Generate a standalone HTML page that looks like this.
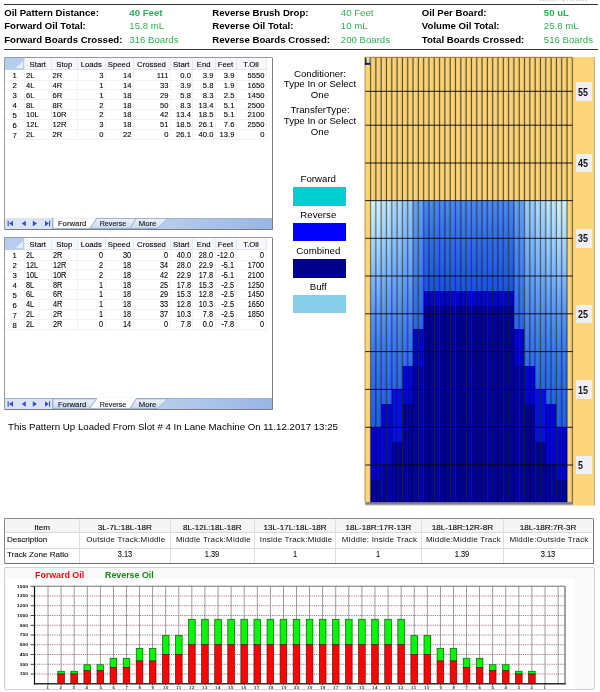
<!DOCTYPE html>
<html><head><meta charset="utf-8"><title>Oil Pattern Report</title>
<style>html,body{margin:0;padding:0;background:#fff;}body{width:600px;height:692px;position:relative;overflow:hidden;font-family:'Liberation Sans', sans-serif;}div{box-sizing:border-box;}svg{position:absolute;left:0;top:0;}</style>
</head><body>
<div style="position:absolute;left:4.00px;top:3.90px;width:594.00px;height:1.30px;background:#333;"></div>
<div style="position:absolute;left:4.00px;top:48.60px;width:594.00px;height:1.30px;background:#333;"></div>
<div style="position:absolute;top:7.07px;font-size:9.65px;line-height:11.58px;color:#000;white-space:nowrap;font-weight:bold;left:4.20px;">Oil Pattern Distance:</div>
<div style="position:absolute;top:7.07px;font-size:9.65px;line-height:11.58px;color:#2db155;white-space:nowrap;font-weight:bold;left:129.30px;">40 Feet</div>
<div style="position:absolute;top:7.07px;font-size:9.65px;line-height:11.58px;color:#000;white-space:nowrap;font-weight:bold;left:212.30px;">Reverse Brush Drop:</div>
<div style="position:absolute;top:7.07px;font-size:9.65px;line-height:11.58px;color:#2db155;white-space:nowrap;left:340.80px;">40 Feet</div>
<div style="position:absolute;top:7.07px;font-size:9.65px;line-height:11.58px;color:#000;white-space:nowrap;font-weight:bold;left:421.80px;">Oil Per Board:</div>
<div style="position:absolute;top:7.07px;font-size:9.65px;line-height:11.58px;color:#2db155;white-space:nowrap;font-weight:bold;left:543.80px;">50 uL</div>
<div style="position:absolute;top:20.47px;font-size:9.65px;line-height:11.58px;color:#000;white-space:nowrap;font-weight:bold;left:4.20px;">Forward Oil Total:</div>
<div style="position:absolute;top:20.47px;font-size:9.65px;line-height:11.58px;color:#2db155;white-space:nowrap;left:129.30px;">15.8 mL</div>
<div style="position:absolute;top:20.47px;font-size:9.65px;line-height:11.58px;color:#000;white-space:nowrap;font-weight:bold;left:212.30px;">Reverse Oil Total:</div>
<div style="position:absolute;top:20.47px;font-size:9.65px;line-height:11.58px;color:#2db155;white-space:nowrap;left:340.80px;">10 mL</div>
<div style="position:absolute;top:20.47px;font-size:9.65px;line-height:11.58px;color:#000;white-space:nowrap;font-weight:bold;left:421.80px;">Volume Oil Total:</div>
<div style="position:absolute;top:20.47px;font-size:9.65px;line-height:11.58px;color:#2db155;white-space:nowrap;left:543.80px;">25.8 mL</div>
<div style="position:absolute;top:33.97px;font-size:9.65px;line-height:11.58px;color:#000;white-space:nowrap;font-weight:bold;left:4.20px;">Forward Boards Crossed:</div>
<div style="position:absolute;top:33.97px;font-size:9.65px;line-height:11.58px;color:#2db155;white-space:nowrap;left:129.30px;">316 Boards</div>
<div style="position:absolute;top:33.97px;font-size:9.65px;line-height:11.58px;color:#000;white-space:nowrap;font-weight:bold;left:212.30px;">Reverse Boards Crossed:</div>
<div style="position:absolute;top:33.97px;font-size:9.65px;line-height:11.58px;color:#2db155;white-space:nowrap;left:340.80px;">200 Boards</div>
<div style="position:absolute;top:33.97px;font-size:9.65px;line-height:11.58px;color:#000;white-space:nowrap;font-weight:bold;left:421.80px;">Total Boards Crossed:</div>
<div style="position:absolute;top:33.97px;font-size:9.65px;line-height:11.58px;color:#2db155;white-space:nowrap;left:543.80px;">516 Boards</div>
<div style="position:absolute;left:539.00px;top:0.00px;width:50.00px;height:0.90px;background:repeating-linear-gradient(90deg,#b8b8b8 0 1.6px,#fff 1.6px 3.1px);opacity:0.55;"></div>
<div style="position:absolute;left:563.00px;top:0.00px;width:0.80px;height:1.20px;background:#f0b060;"></div>
<div style="position:absolute;left:4.30px;top:57.00px;width:268.90px;height:173.30px;background:#fff;border:1px solid #9a9a9a;border-right:1.3px solid #7c7c7c;border-bottom:1.3px solid #7c7c7c;border-radius:1.5px;"></div>
<div style="position:absolute;left:4.80px;top:57.80px;width:261.20px;height:12.40px;background:#f7f8fb;border-bottom:1px solid #e3e6ee;"></div>
<div style="position:absolute;left:4.80px;top:57.80px;width:19.70px;height:12.40px;background:#b4cdf0;"></div>
<svg width="600" height="692" style="pointer-events:none"><polygon points="23.0,61.3 23.0,68.2 15.0,68.2" fill="#e6eefb"/></svg>
<div style="position:absolute;left:24.00px;top:57.80px;width:1.00px;height:12.40px;background:#e6e9f0;"></div>
<div style="position:absolute;left:50.50px;top:57.80px;width:1.00px;height:12.40px;background:#e6e9f0;"></div>
<div style="position:absolute;left:77.00px;top:57.80px;width:1.00px;height:12.40px;background:#e6e9f0;"></div>
<div style="position:absolute;left:104.50px;top:57.80px;width:1.00px;height:12.40px;background:#e6e9f0;"></div>
<div style="position:absolute;left:132.50px;top:57.80px;width:1.00px;height:12.40px;background:#e6e9f0;"></div>
<div style="position:absolute;left:169.50px;top:57.80px;width:1.00px;height:12.40px;background:#e6e9f0;"></div>
<div style="position:absolute;left:192.00px;top:57.80px;width:1.00px;height:12.40px;background:#e6e9f0;"></div>
<div style="position:absolute;left:214.50px;top:57.80px;width:1.00px;height:12.40px;background:#e6e9f0;"></div>
<div style="position:absolute;left:235.50px;top:57.80px;width:1.00px;height:12.40px;background:#e6e9f0;"></div>
<div style="position:absolute;left:265.50px;top:57.80px;width:1.00px;height:12.40px;background:#e6e9f0;"></div>
<div style="position:absolute;top:60.06px;font-size:7.75px;line-height:9.3px;color:#000;white-space:nowrap;left:7.75px;width:60px;text-align:center;-webkit-text-stroke:0.1px #000;">Start</div>
<div style="position:absolute;top:60.06px;font-size:7.75px;line-height:9.3px;color:#000;white-space:nowrap;left:34.25px;width:60px;text-align:center;-webkit-text-stroke:0.1px #000;">Stop</div>
<div style="position:absolute;top:60.06px;font-size:7.75px;line-height:9.3px;color:#000;white-space:nowrap;left:61.25px;width:60px;text-align:center;-webkit-text-stroke:0.1px #000;">Loads</div>
<div style="position:absolute;top:60.06px;font-size:7.75px;line-height:9.3px;color:#000;white-space:nowrap;left:89.00px;width:60px;text-align:center;-webkit-text-stroke:0.1px #000;">Speed</div>
<div style="position:absolute;top:60.06px;font-size:7.75px;line-height:9.3px;color:#000;white-space:nowrap;left:121.50px;width:60px;text-align:center;-webkit-text-stroke:0.1px #000;">Crossed</div>
<div style="position:absolute;top:60.06px;font-size:7.75px;line-height:9.3px;color:#000;white-space:nowrap;left:151.25px;width:60px;text-align:center;-webkit-text-stroke:0.1px #000;">Start</div>
<div style="position:absolute;top:60.06px;font-size:7.75px;line-height:9.3px;color:#000;white-space:nowrap;left:173.75px;width:60px;text-align:center;-webkit-text-stroke:0.1px #000;">End</div>
<div style="position:absolute;top:60.06px;font-size:7.75px;line-height:9.3px;color:#000;white-space:nowrap;left:195.50px;width:60px;text-align:center;-webkit-text-stroke:0.1px #000;">Feet</div>
<div style="position:absolute;top:60.06px;font-size:7.75px;line-height:9.3px;color:#000;white-space:nowrap;left:221.00px;width:60px;text-align:center;-webkit-text-stroke:0.1px #000;">T.Oil</div>
<div style="position:absolute;left:4.80px;top:79.59px;width:261.20px;height:1.00px;background:#f1f2f6;"></div>
<div style="position:absolute;left:4.80px;top:89.47px;width:261.20px;height:1.00px;background:#f1f2f6;"></div>
<div style="position:absolute;left:4.80px;top:99.36px;width:261.20px;height:1.00px;background:#f1f2f6;"></div>
<div style="position:absolute;left:4.80px;top:109.24px;width:261.20px;height:1.00px;background:#f1f2f6;"></div>
<div style="position:absolute;left:4.80px;top:119.12px;width:261.20px;height:1.00px;background:#f1f2f6;"></div>
<div style="position:absolute;left:4.80px;top:129.01px;width:261.20px;height:1.00px;background:#f1f2f6;"></div>
<div style="position:absolute;left:4.80px;top:138.89px;width:261.20px;height:1.00px;background:#f1f2f6;"></div>
<div style="position:absolute;left:24.00px;top:70.20px;width:1.00px;height:69.19px;background:#f1f2f6;"></div>
<div style="position:absolute;left:50.50px;top:70.20px;width:1.00px;height:69.19px;background:#f1f2f6;"></div>
<div style="position:absolute;left:77.00px;top:70.20px;width:1.00px;height:69.19px;background:#f1f2f6;"></div>
<div style="position:absolute;left:104.50px;top:70.20px;width:1.00px;height:69.19px;background:#f1f2f6;"></div>
<div style="position:absolute;left:132.50px;top:70.20px;width:1.00px;height:69.19px;background:#f1f2f6;"></div>
<div style="position:absolute;left:169.50px;top:70.20px;width:1.00px;height:69.19px;background:#f1f2f6;"></div>
<div style="position:absolute;left:192.00px;top:70.20px;width:1.00px;height:69.19px;background:#f1f2f6;"></div>
<div style="position:absolute;left:214.50px;top:70.20px;width:1.00px;height:69.19px;background:#f1f2f6;"></div>
<div style="position:absolute;left:235.50px;top:70.20px;width:1.00px;height:69.19px;background:#f1f2f6;"></div>
<div style="position:absolute;left:265.50px;top:70.20px;width:1.00px;height:69.19px;background:#f1f2f6;"></div>
<div style="position:absolute;top:71.36px;font-size:7.75px;line-height:9.3px;color:#000;white-space:nowrap;left:5.65px;width:18px;text-align:center;-webkit-text-stroke:0.1px #000;">1</div>
<div style="position:absolute;top:70.91px;font-size:7.6px;line-height:9.12px;color:#000;white-space:nowrap;left:26.10px;-webkit-text-stroke:0.1px #000;">2L</div>
<div style="position:absolute;top:70.91px;font-size:7.6px;line-height:9.12px;color:#000;white-space:nowrap;left:52.60px;-webkit-text-stroke:0.1px #000;">2R</div>
<div style="position:absolute;top:70.91px;font-size:7.6px;line-height:9.12px;color:#000;white-space:nowrap;left:63.40px;width:40px;text-align:right;-webkit-text-stroke:0.1px #000;">3</div>
<div style="position:absolute;top:70.91px;font-size:7.6px;line-height:9.12px;color:#000;white-space:nowrap;left:91.40px;width:40px;text-align:right;-webkit-text-stroke:0.1px #000;">14</div>
<div style="position:absolute;top:70.91px;font-size:7.6px;line-height:9.12px;color:#000;white-space:nowrap;left:128.40px;width:40px;text-align:right;-webkit-text-stroke:0.1px #000;">111</div>
<div style="position:absolute;top:70.91px;font-size:7.6px;line-height:9.12px;color:#000;white-space:nowrap;left:150.90px;width:40px;text-align:right;-webkit-text-stroke:0.1px #000;">0.0</div>
<div style="position:absolute;top:70.91px;font-size:7.6px;line-height:9.12px;color:#000;white-space:nowrap;left:173.40px;width:40px;text-align:right;-webkit-text-stroke:0.1px #000;">3.9</div>
<div style="position:absolute;top:70.91px;font-size:7.6px;line-height:9.12px;color:#000;white-space:nowrap;left:194.40px;width:40px;text-align:right;-webkit-text-stroke:0.1px #000;">3.9</div>
<div style="position:absolute;top:70.91px;font-size:7.6px;line-height:9.12px;color:#000;white-space:nowrap;left:224.40px;width:40px;text-align:right;-webkit-text-stroke:0.1px #000;">5550</div>
<div style="position:absolute;top:81.25px;font-size:7.75px;line-height:9.3px;color:#000;white-space:nowrap;left:5.65px;width:18px;text-align:center;-webkit-text-stroke:0.1px #000;">2</div>
<div style="position:absolute;top:80.79px;font-size:7.6px;line-height:9.12px;color:#000;white-space:nowrap;left:26.10px;-webkit-text-stroke:0.1px #000;">4L</div>
<div style="position:absolute;top:80.79px;font-size:7.6px;line-height:9.12px;color:#000;white-space:nowrap;left:52.60px;-webkit-text-stroke:0.1px #000;">4R</div>
<div style="position:absolute;top:80.79px;font-size:7.6px;line-height:9.12px;color:#000;white-space:nowrap;left:63.40px;width:40px;text-align:right;-webkit-text-stroke:0.1px #000;">1</div>
<div style="position:absolute;top:80.79px;font-size:7.6px;line-height:9.12px;color:#000;white-space:nowrap;left:91.40px;width:40px;text-align:right;-webkit-text-stroke:0.1px #000;">14</div>
<div style="position:absolute;top:80.79px;font-size:7.6px;line-height:9.12px;color:#000;white-space:nowrap;left:128.40px;width:40px;text-align:right;-webkit-text-stroke:0.1px #000;">33</div>
<div style="position:absolute;top:80.79px;font-size:7.6px;line-height:9.12px;color:#000;white-space:nowrap;left:150.90px;width:40px;text-align:right;-webkit-text-stroke:0.1px #000;">3.9</div>
<div style="position:absolute;top:80.79px;font-size:7.6px;line-height:9.12px;color:#000;white-space:nowrap;left:173.40px;width:40px;text-align:right;-webkit-text-stroke:0.1px #000;">5.8</div>
<div style="position:absolute;top:80.79px;font-size:7.6px;line-height:9.12px;color:#000;white-space:nowrap;left:194.40px;width:40px;text-align:right;-webkit-text-stroke:0.1px #000;">1.9</div>
<div style="position:absolute;top:80.79px;font-size:7.6px;line-height:9.12px;color:#000;white-space:nowrap;left:224.40px;width:40px;text-align:right;-webkit-text-stroke:0.1px #000;">1650</div>
<div style="position:absolute;top:91.13px;font-size:7.75px;line-height:9.3px;color:#000;white-space:nowrap;left:5.65px;width:18px;text-align:center;-webkit-text-stroke:0.1px #000;">3</div>
<div style="position:absolute;top:90.68px;font-size:7.6px;line-height:9.12px;color:#000;white-space:nowrap;left:26.10px;-webkit-text-stroke:0.1px #000;">6L</div>
<div style="position:absolute;top:90.68px;font-size:7.6px;line-height:9.12px;color:#000;white-space:nowrap;left:52.60px;-webkit-text-stroke:0.1px #000;">6R</div>
<div style="position:absolute;top:90.68px;font-size:7.6px;line-height:9.12px;color:#000;white-space:nowrap;left:63.40px;width:40px;text-align:right;-webkit-text-stroke:0.1px #000;">1</div>
<div style="position:absolute;top:90.68px;font-size:7.6px;line-height:9.12px;color:#000;white-space:nowrap;left:91.40px;width:40px;text-align:right;-webkit-text-stroke:0.1px #000;">18</div>
<div style="position:absolute;top:90.68px;font-size:7.6px;line-height:9.12px;color:#000;white-space:nowrap;left:128.40px;width:40px;text-align:right;-webkit-text-stroke:0.1px #000;">29</div>
<div style="position:absolute;top:90.68px;font-size:7.6px;line-height:9.12px;color:#000;white-space:nowrap;left:150.90px;width:40px;text-align:right;-webkit-text-stroke:0.1px #000;">5.8</div>
<div style="position:absolute;top:90.68px;font-size:7.6px;line-height:9.12px;color:#000;white-space:nowrap;left:173.40px;width:40px;text-align:right;-webkit-text-stroke:0.1px #000;">8.3</div>
<div style="position:absolute;top:90.68px;font-size:7.6px;line-height:9.12px;color:#000;white-space:nowrap;left:194.40px;width:40px;text-align:right;-webkit-text-stroke:0.1px #000;">2.5</div>
<div style="position:absolute;top:90.68px;font-size:7.6px;line-height:9.12px;color:#000;white-space:nowrap;left:224.40px;width:40px;text-align:right;-webkit-text-stroke:0.1px #000;">1450</div>
<div style="position:absolute;top:101.02px;font-size:7.75px;line-height:9.3px;color:#000;white-space:nowrap;left:5.65px;width:18px;text-align:center;-webkit-text-stroke:0.1px #000;">4</div>
<div style="position:absolute;top:100.56px;font-size:7.6px;line-height:9.12px;color:#000;white-space:nowrap;left:26.10px;-webkit-text-stroke:0.1px #000;">8L</div>
<div style="position:absolute;top:100.56px;font-size:7.6px;line-height:9.12px;color:#000;white-space:nowrap;left:52.60px;-webkit-text-stroke:0.1px #000;">8R</div>
<div style="position:absolute;top:100.56px;font-size:7.6px;line-height:9.12px;color:#000;white-space:nowrap;left:63.40px;width:40px;text-align:right;-webkit-text-stroke:0.1px #000;">2</div>
<div style="position:absolute;top:100.56px;font-size:7.6px;line-height:9.12px;color:#000;white-space:nowrap;left:91.40px;width:40px;text-align:right;-webkit-text-stroke:0.1px #000;">18</div>
<div style="position:absolute;top:100.56px;font-size:7.6px;line-height:9.12px;color:#000;white-space:nowrap;left:128.40px;width:40px;text-align:right;-webkit-text-stroke:0.1px #000;">50</div>
<div style="position:absolute;top:100.56px;font-size:7.6px;line-height:9.12px;color:#000;white-space:nowrap;left:150.90px;width:40px;text-align:right;-webkit-text-stroke:0.1px #000;">8.3</div>
<div style="position:absolute;top:100.56px;font-size:7.6px;line-height:9.12px;color:#000;white-space:nowrap;left:173.40px;width:40px;text-align:right;-webkit-text-stroke:0.1px #000;">13.4</div>
<div style="position:absolute;top:100.56px;font-size:7.6px;line-height:9.12px;color:#000;white-space:nowrap;left:194.40px;width:40px;text-align:right;-webkit-text-stroke:0.1px #000;">5.1</div>
<div style="position:absolute;top:100.56px;font-size:7.6px;line-height:9.12px;color:#000;white-space:nowrap;left:224.40px;width:40px;text-align:right;-webkit-text-stroke:0.1px #000;">2500</div>
<div style="position:absolute;top:110.90px;font-size:7.75px;line-height:9.3px;color:#000;white-space:nowrap;left:5.65px;width:18px;text-align:center;-webkit-text-stroke:0.1px #000;">5</div>
<div style="position:absolute;top:110.45px;font-size:7.6px;line-height:9.12px;color:#000;white-space:nowrap;left:26.10px;-webkit-text-stroke:0.1px #000;">10L</div>
<div style="position:absolute;top:110.45px;font-size:7.6px;line-height:9.12px;color:#000;white-space:nowrap;left:52.60px;-webkit-text-stroke:0.1px #000;">10R</div>
<div style="position:absolute;top:110.45px;font-size:7.6px;line-height:9.12px;color:#000;white-space:nowrap;left:63.40px;width:40px;text-align:right;-webkit-text-stroke:0.1px #000;">2</div>
<div style="position:absolute;top:110.45px;font-size:7.6px;line-height:9.12px;color:#000;white-space:nowrap;left:91.40px;width:40px;text-align:right;-webkit-text-stroke:0.1px #000;">18</div>
<div style="position:absolute;top:110.45px;font-size:7.6px;line-height:9.12px;color:#000;white-space:nowrap;left:128.40px;width:40px;text-align:right;-webkit-text-stroke:0.1px #000;">42</div>
<div style="position:absolute;top:110.45px;font-size:7.6px;line-height:9.12px;color:#000;white-space:nowrap;left:150.90px;width:40px;text-align:right;-webkit-text-stroke:0.1px #000;">13.4</div>
<div style="position:absolute;top:110.45px;font-size:7.6px;line-height:9.12px;color:#000;white-space:nowrap;left:173.40px;width:40px;text-align:right;-webkit-text-stroke:0.1px #000;">18.5</div>
<div style="position:absolute;top:110.45px;font-size:7.6px;line-height:9.12px;color:#000;white-space:nowrap;left:194.40px;width:40px;text-align:right;-webkit-text-stroke:0.1px #000;">5.1</div>
<div style="position:absolute;top:110.45px;font-size:7.6px;line-height:9.12px;color:#000;white-space:nowrap;left:224.40px;width:40px;text-align:right;-webkit-text-stroke:0.1px #000;">2100</div>
<div style="position:absolute;top:120.79px;font-size:7.75px;line-height:9.3px;color:#000;white-space:nowrap;left:5.65px;width:18px;text-align:center;-webkit-text-stroke:0.1px #000;">6</div>
<div style="position:absolute;top:120.33px;font-size:7.6px;line-height:9.12px;color:#000;white-space:nowrap;left:26.10px;-webkit-text-stroke:0.1px #000;">12L</div>
<div style="position:absolute;top:120.33px;font-size:7.6px;line-height:9.12px;color:#000;white-space:nowrap;left:52.60px;-webkit-text-stroke:0.1px #000;">12R</div>
<div style="position:absolute;top:120.33px;font-size:7.6px;line-height:9.12px;color:#000;white-space:nowrap;left:63.40px;width:40px;text-align:right;-webkit-text-stroke:0.1px #000;">3</div>
<div style="position:absolute;top:120.33px;font-size:7.6px;line-height:9.12px;color:#000;white-space:nowrap;left:91.40px;width:40px;text-align:right;-webkit-text-stroke:0.1px #000;">18</div>
<div style="position:absolute;top:120.33px;font-size:7.6px;line-height:9.12px;color:#000;white-space:nowrap;left:128.40px;width:40px;text-align:right;-webkit-text-stroke:0.1px #000;">51</div>
<div style="position:absolute;top:120.33px;font-size:7.6px;line-height:9.12px;color:#000;white-space:nowrap;left:150.90px;width:40px;text-align:right;-webkit-text-stroke:0.1px #000;">18.5</div>
<div style="position:absolute;top:120.33px;font-size:7.6px;line-height:9.12px;color:#000;white-space:nowrap;left:173.40px;width:40px;text-align:right;-webkit-text-stroke:0.1px #000;">26.1</div>
<div style="position:absolute;top:120.33px;font-size:7.6px;line-height:9.12px;color:#000;white-space:nowrap;left:194.40px;width:40px;text-align:right;-webkit-text-stroke:0.1px #000;">7.6</div>
<div style="position:absolute;top:120.33px;font-size:7.6px;line-height:9.12px;color:#000;white-space:nowrap;left:224.40px;width:40px;text-align:right;-webkit-text-stroke:0.1px #000;">2550</div>
<div style="position:absolute;top:130.67px;font-size:7.75px;line-height:9.3px;color:#000;white-space:nowrap;left:5.65px;width:18px;text-align:center;-webkit-text-stroke:0.1px #000;">7</div>
<div style="position:absolute;top:130.22px;font-size:7.6px;line-height:9.12px;color:#000;white-space:nowrap;left:26.10px;-webkit-text-stroke:0.1px #000;">2L</div>
<div style="position:absolute;top:130.22px;font-size:7.6px;line-height:9.12px;color:#000;white-space:nowrap;left:52.60px;-webkit-text-stroke:0.1px #000;">2R</div>
<div style="position:absolute;top:130.22px;font-size:7.6px;line-height:9.12px;color:#000;white-space:nowrap;left:63.40px;width:40px;text-align:right;-webkit-text-stroke:0.1px #000;">0</div>
<div style="position:absolute;top:130.22px;font-size:7.6px;line-height:9.12px;color:#000;white-space:nowrap;left:91.40px;width:40px;text-align:right;-webkit-text-stroke:0.1px #000;">22</div>
<div style="position:absolute;top:130.22px;font-size:7.6px;line-height:9.12px;color:#000;white-space:nowrap;left:128.40px;width:40px;text-align:right;-webkit-text-stroke:0.1px #000;">0</div>
<div style="position:absolute;top:130.22px;font-size:7.6px;line-height:9.12px;color:#000;white-space:nowrap;left:150.90px;width:40px;text-align:right;-webkit-text-stroke:0.1px #000;">26.1</div>
<div style="position:absolute;top:130.22px;font-size:7.6px;line-height:9.12px;color:#000;white-space:nowrap;left:173.40px;width:40px;text-align:right;-webkit-text-stroke:0.1px #000;">40.0</div>
<div style="position:absolute;top:130.22px;font-size:7.6px;line-height:9.12px;color:#000;white-space:nowrap;left:194.40px;width:40px;text-align:right;-webkit-text-stroke:0.1px #000;">13.9</div>
<div style="position:absolute;top:130.22px;font-size:7.6px;line-height:9.12px;color:#000;white-space:nowrap;left:224.40px;width:40px;text-align:right;-webkit-text-stroke:0.1px #000;">0</div>
<div style="position:absolute;left:5.20px;top:217.50px;width:266.80px;height:11.60px;background:linear-gradient(90deg,#c9d9ef 0%,#c3d5ee 45%,#98b5e5 100%);border-top:1px solid #9fb3d3;"></div>
<div style="position:absolute;left:5.20px;top:218.10px;width:47.80px;height:11.00px;background:#d9e4f5;border-right:1px solid #a9bbdc;"></div>
<svg width="600" height="692"><g fill="#3a4ad2"><rect x="7.6" y="220.70" width="1.1" height="5.60"/><polygon points="13.0,220.70 13.0,226.30 9.0,223.50"/><polygon points="25.8,220.70 25.8,226.30 21.7,223.50"/><polygon points="32.8,220.70 32.8,226.30 37.0,223.50"/><polygon points="45.0,220.70 45.0,226.30 48.8,223.50"/><rect x="49.0" y="220.70" width="1.1" height="5.60"/></g></svg>
<svg width="600" height="692"><defs><linearGradient id="tg" x1="0" y1="0" x2="0" y2="1"><stop offset="0" stop-color="#eaf1fb"/><stop offset="1" stop-color="#c9d9f1"/></linearGradient></defs><polygon points="136.3,218.4 130.0,228.40000000000003 158.0,228.40000000000003 167.5,218.4" fill="url(#tg)" stroke="#8ea2c4" stroke-width="0.7"/><polygon points="96.8,218.4 89.8,228.40000000000003 130.0,228.40000000000003 136.3,218.4" fill="url(#tg)" stroke="#8ea2c4" stroke-width="0.7"/><polygon points="53.0,217.9 53.0,228.40000000000003 89.8,228.40000000000003 96.8,217.9" fill="#ffffff" stroke="#8ea2c4" stroke-width="0.7"/><rect x="53.4" y="217.2" width="43.0" height="1.3" fill="#fff"/></svg>
<div style="position:absolute;top:219.36px;font-size:7.75px;line-height:9.3px;color:#111;white-space:nowrap;left:42.10px;width:60px;text-align:center;-webkit-text-stroke:0.1px #000;">Forward</div>
<div style="position:absolute;top:219.36px;font-size:7.75px;line-height:9.3px;color:#111;white-space:nowrap;left:82.60px;width:60px;text-align:center;transform:scaleX(0.92);transform-origin:center center;-webkit-text-stroke:0.1px #000;">Reverse</div>
<div style="position:absolute;top:219.36px;font-size:7.75px;line-height:9.3px;color:#111;white-space:nowrap;left:117.60px;width:60px;text-align:center;-webkit-text-stroke:0.1px #000;">More</div>
<div style="position:absolute;left:4.30px;top:237.00px;width:268.90px;height:173.30px;background:#fff;border:1px solid #9a9a9a;border-right:1.3px solid #7c7c7c;border-bottom:1.3px solid #7c7c7c;border-radius:1.5px;"></div>
<div style="position:absolute;left:4.80px;top:237.80px;width:261.20px;height:12.40px;background:#f7f8fb;border-bottom:1px solid #e3e6ee;"></div>
<div style="position:absolute;left:4.80px;top:237.80px;width:19.70px;height:12.40px;background:#b4cdf0;"></div>
<svg width="600" height="692" style="pointer-events:none"><polygon points="23.0,241.3 23.0,248.2 15.0,248.2" fill="#e6eefb"/></svg>
<div style="position:absolute;left:24.00px;top:237.80px;width:1.00px;height:12.40px;background:#e6e9f0;"></div>
<div style="position:absolute;left:50.50px;top:237.80px;width:1.00px;height:12.40px;background:#e6e9f0;"></div>
<div style="position:absolute;left:77.00px;top:237.80px;width:1.00px;height:12.40px;background:#e6e9f0;"></div>
<div style="position:absolute;left:104.50px;top:237.80px;width:1.00px;height:12.40px;background:#e6e9f0;"></div>
<div style="position:absolute;left:132.50px;top:237.80px;width:1.00px;height:12.40px;background:#e6e9f0;"></div>
<div style="position:absolute;left:169.50px;top:237.80px;width:1.00px;height:12.40px;background:#e6e9f0;"></div>
<div style="position:absolute;left:192.00px;top:237.80px;width:1.00px;height:12.40px;background:#e6e9f0;"></div>
<div style="position:absolute;left:214.50px;top:237.80px;width:1.00px;height:12.40px;background:#e6e9f0;"></div>
<div style="position:absolute;left:235.50px;top:237.80px;width:1.00px;height:12.40px;background:#e6e9f0;"></div>
<div style="position:absolute;left:265.50px;top:237.80px;width:1.00px;height:12.40px;background:#e6e9f0;"></div>
<div style="position:absolute;top:240.06px;font-size:7.75px;line-height:9.3px;color:#000;white-space:nowrap;left:7.75px;width:60px;text-align:center;-webkit-text-stroke:0.1px #000;">Start</div>
<div style="position:absolute;top:240.06px;font-size:7.75px;line-height:9.3px;color:#000;white-space:nowrap;left:34.25px;width:60px;text-align:center;-webkit-text-stroke:0.1px #000;">Stop</div>
<div style="position:absolute;top:240.06px;font-size:7.75px;line-height:9.3px;color:#000;white-space:nowrap;left:61.25px;width:60px;text-align:center;-webkit-text-stroke:0.1px #000;">Loads</div>
<div style="position:absolute;top:240.06px;font-size:7.75px;line-height:9.3px;color:#000;white-space:nowrap;left:89.00px;width:60px;text-align:center;-webkit-text-stroke:0.1px #000;">Speed</div>
<div style="position:absolute;top:240.06px;font-size:7.75px;line-height:9.3px;color:#000;white-space:nowrap;left:121.50px;width:60px;text-align:center;-webkit-text-stroke:0.1px #000;">Crossed</div>
<div style="position:absolute;top:240.06px;font-size:7.75px;line-height:9.3px;color:#000;white-space:nowrap;left:151.25px;width:60px;text-align:center;-webkit-text-stroke:0.1px #000;">Start</div>
<div style="position:absolute;top:240.06px;font-size:7.75px;line-height:9.3px;color:#000;white-space:nowrap;left:173.75px;width:60px;text-align:center;-webkit-text-stroke:0.1px #000;">End</div>
<div style="position:absolute;top:240.06px;font-size:7.75px;line-height:9.3px;color:#000;white-space:nowrap;left:195.50px;width:60px;text-align:center;-webkit-text-stroke:0.1px #000;">Feet</div>
<div style="position:absolute;top:240.06px;font-size:7.75px;line-height:9.3px;color:#000;white-space:nowrap;left:221.00px;width:60px;text-align:center;-webkit-text-stroke:0.1px #000;">T.Oil</div>
<div style="position:absolute;left:4.80px;top:259.58px;width:261.20px;height:1.00px;background:#f1f2f6;"></div>
<div style="position:absolute;left:4.80px;top:269.47px;width:261.20px;height:1.00px;background:#f1f2f6;"></div>
<div style="position:absolute;left:4.80px;top:279.36px;width:261.20px;height:1.00px;background:#f1f2f6;"></div>
<div style="position:absolute;left:4.80px;top:289.24px;width:261.20px;height:1.00px;background:#f1f2f6;"></div>
<div style="position:absolute;left:4.80px;top:299.12px;width:261.20px;height:1.00px;background:#f1f2f6;"></div>
<div style="position:absolute;left:4.80px;top:309.01px;width:261.20px;height:1.00px;background:#f1f2f6;"></div>
<div style="position:absolute;left:4.80px;top:318.89px;width:261.20px;height:1.00px;background:#f1f2f6;"></div>
<div style="position:absolute;left:4.80px;top:328.78px;width:261.20px;height:1.00px;background:#f1f2f6;"></div>
<div style="position:absolute;left:24.00px;top:250.20px;width:1.00px;height:79.08px;background:#f1f2f6;"></div>
<div style="position:absolute;left:50.50px;top:250.20px;width:1.00px;height:79.08px;background:#f1f2f6;"></div>
<div style="position:absolute;left:77.00px;top:250.20px;width:1.00px;height:79.08px;background:#f1f2f6;"></div>
<div style="position:absolute;left:104.50px;top:250.20px;width:1.00px;height:79.08px;background:#f1f2f6;"></div>
<div style="position:absolute;left:132.50px;top:250.20px;width:1.00px;height:79.08px;background:#f1f2f6;"></div>
<div style="position:absolute;left:169.50px;top:250.20px;width:1.00px;height:79.08px;background:#f1f2f6;"></div>
<div style="position:absolute;left:192.00px;top:250.20px;width:1.00px;height:79.08px;background:#f1f2f6;"></div>
<div style="position:absolute;left:214.50px;top:250.20px;width:1.00px;height:79.08px;background:#f1f2f6;"></div>
<div style="position:absolute;left:235.50px;top:250.20px;width:1.00px;height:79.08px;background:#f1f2f6;"></div>
<div style="position:absolute;left:265.50px;top:250.20px;width:1.00px;height:79.08px;background:#f1f2f6;"></div>
<div style="position:absolute;top:251.36px;font-size:7.75px;line-height:9.3px;color:#000;white-space:nowrap;left:5.65px;width:18px;text-align:center;-webkit-text-stroke:0.1px #000;">1</div>
<div style="position:absolute;top:249.87px;font-size:8.7px;line-height:10.44px;color:#000;white-space:nowrap;left:26.10px;transform:scaleX(0.84);transform-origin:left center;-webkit-text-stroke:0.1px #000;">2L</div>
<div style="position:absolute;top:249.87px;font-size:8.7px;line-height:10.44px;color:#000;white-space:nowrap;left:52.60px;transform:scaleX(0.84);transform-origin:left center;-webkit-text-stroke:0.1px #000;">2R</div>
<div style="position:absolute;top:249.87px;font-size:8.7px;line-height:10.44px;color:#000;white-space:nowrap;left:63.40px;width:40px;text-align:right;transform:scaleX(0.84);transform-origin:right center;-webkit-text-stroke:0.1px #000;">0</div>
<div style="position:absolute;top:249.87px;font-size:8.7px;line-height:10.44px;color:#000;white-space:nowrap;left:91.40px;width:40px;text-align:right;transform:scaleX(0.84);transform-origin:right center;-webkit-text-stroke:0.1px #000;">30</div>
<div style="position:absolute;top:249.87px;font-size:8.7px;line-height:10.44px;color:#000;white-space:nowrap;left:128.40px;width:40px;text-align:right;transform:scaleX(0.84);transform-origin:right center;-webkit-text-stroke:0.1px #000;">0</div>
<div style="position:absolute;top:249.87px;font-size:8.7px;line-height:10.44px;color:#000;white-space:nowrap;left:150.90px;width:40px;text-align:right;transform:scaleX(0.84);transform-origin:right center;-webkit-text-stroke:0.1px #000;">40.0</div>
<div style="position:absolute;top:249.87px;font-size:8.7px;line-height:10.44px;color:#000;white-space:nowrap;left:173.40px;width:40px;text-align:right;transform:scaleX(0.84);transform-origin:right center;-webkit-text-stroke:0.1px #000;">28.0</div>
<div style="position:absolute;top:249.87px;font-size:8.7px;line-height:10.44px;color:#000;white-space:nowrap;left:194.40px;width:40px;text-align:right;transform:scaleX(0.84);transform-origin:right center;-webkit-text-stroke:0.1px #000;">-12.0</div>
<div style="position:absolute;top:249.87px;font-size:8.7px;line-height:10.44px;color:#000;white-space:nowrap;left:224.40px;width:40px;text-align:right;transform:scaleX(0.84);transform-origin:right center;-webkit-text-stroke:0.1px #000;">0</div>
<div style="position:absolute;top:261.25px;font-size:7.75px;line-height:9.3px;color:#000;white-space:nowrap;left:5.65px;width:18px;text-align:center;-webkit-text-stroke:0.1px #000;">2</div>
<div style="position:absolute;top:259.75px;font-size:8.7px;line-height:10.44px;color:#000;white-space:nowrap;left:26.10px;transform:scaleX(0.84);transform-origin:left center;-webkit-text-stroke:0.1px #000;">12L</div>
<div style="position:absolute;top:259.75px;font-size:8.7px;line-height:10.44px;color:#000;white-space:nowrap;left:52.60px;transform:scaleX(0.84);transform-origin:left center;-webkit-text-stroke:0.1px #000;">12R</div>
<div style="position:absolute;top:259.75px;font-size:8.7px;line-height:10.44px;color:#000;white-space:nowrap;left:63.40px;width:40px;text-align:right;transform:scaleX(0.84);transform-origin:right center;-webkit-text-stroke:0.1px #000;">2</div>
<div style="position:absolute;top:259.75px;font-size:8.7px;line-height:10.44px;color:#000;white-space:nowrap;left:91.40px;width:40px;text-align:right;transform:scaleX(0.84);transform-origin:right center;-webkit-text-stroke:0.1px #000;">18</div>
<div style="position:absolute;top:259.75px;font-size:8.7px;line-height:10.44px;color:#000;white-space:nowrap;left:128.40px;width:40px;text-align:right;transform:scaleX(0.84);transform-origin:right center;-webkit-text-stroke:0.1px #000;">34</div>
<div style="position:absolute;top:259.75px;font-size:8.7px;line-height:10.44px;color:#000;white-space:nowrap;left:150.90px;width:40px;text-align:right;transform:scaleX(0.84);transform-origin:right center;-webkit-text-stroke:0.1px #000;">28.0</div>
<div style="position:absolute;top:259.75px;font-size:8.7px;line-height:10.44px;color:#000;white-space:nowrap;left:173.40px;width:40px;text-align:right;transform:scaleX(0.84);transform-origin:right center;-webkit-text-stroke:0.1px #000;">22.9</div>
<div style="position:absolute;top:259.75px;font-size:8.7px;line-height:10.44px;color:#000;white-space:nowrap;left:194.40px;width:40px;text-align:right;transform:scaleX(0.84);transform-origin:right center;-webkit-text-stroke:0.1px #000;">-5.1</div>
<div style="position:absolute;top:259.75px;font-size:8.7px;line-height:10.44px;color:#000;white-space:nowrap;left:224.40px;width:40px;text-align:right;transform:scaleX(0.84);transform-origin:right center;-webkit-text-stroke:0.1px #000;">1700</div>
<div style="position:absolute;top:271.13px;font-size:7.75px;line-height:9.3px;color:#000;white-space:nowrap;left:5.65px;width:18px;text-align:center;-webkit-text-stroke:0.1px #000;">3</div>
<div style="position:absolute;top:269.64px;font-size:8.7px;line-height:10.44px;color:#000;white-space:nowrap;left:26.10px;transform:scaleX(0.84);transform-origin:left center;-webkit-text-stroke:0.1px #000;">10L</div>
<div style="position:absolute;top:269.64px;font-size:8.7px;line-height:10.44px;color:#000;white-space:nowrap;left:52.60px;transform:scaleX(0.84);transform-origin:left center;-webkit-text-stroke:0.1px #000;">10R</div>
<div style="position:absolute;top:269.64px;font-size:8.7px;line-height:10.44px;color:#000;white-space:nowrap;left:63.40px;width:40px;text-align:right;transform:scaleX(0.84);transform-origin:right center;-webkit-text-stroke:0.1px #000;">2</div>
<div style="position:absolute;top:269.64px;font-size:8.7px;line-height:10.44px;color:#000;white-space:nowrap;left:91.40px;width:40px;text-align:right;transform:scaleX(0.84);transform-origin:right center;-webkit-text-stroke:0.1px #000;">18</div>
<div style="position:absolute;top:269.64px;font-size:8.7px;line-height:10.44px;color:#000;white-space:nowrap;left:128.40px;width:40px;text-align:right;transform:scaleX(0.84);transform-origin:right center;-webkit-text-stroke:0.1px #000;">42</div>
<div style="position:absolute;top:269.64px;font-size:8.7px;line-height:10.44px;color:#000;white-space:nowrap;left:150.90px;width:40px;text-align:right;transform:scaleX(0.84);transform-origin:right center;-webkit-text-stroke:0.1px #000;">22.9</div>
<div style="position:absolute;top:269.64px;font-size:8.7px;line-height:10.44px;color:#000;white-space:nowrap;left:173.40px;width:40px;text-align:right;transform:scaleX(0.84);transform-origin:right center;-webkit-text-stroke:0.1px #000;">17.8</div>
<div style="position:absolute;top:269.64px;font-size:8.7px;line-height:10.44px;color:#000;white-space:nowrap;left:194.40px;width:40px;text-align:right;transform:scaleX(0.84);transform-origin:right center;-webkit-text-stroke:0.1px #000;">-5.1</div>
<div style="position:absolute;top:269.64px;font-size:8.7px;line-height:10.44px;color:#000;white-space:nowrap;left:224.40px;width:40px;text-align:right;transform:scaleX(0.84);transform-origin:right center;-webkit-text-stroke:0.1px #000;">2100</div>
<div style="position:absolute;top:281.02px;font-size:7.75px;line-height:9.3px;color:#000;white-space:nowrap;left:5.65px;width:18px;text-align:center;-webkit-text-stroke:0.1px #000;">4</div>
<div style="position:absolute;top:279.52px;font-size:8.7px;line-height:10.44px;color:#000;white-space:nowrap;left:26.10px;transform:scaleX(0.84);transform-origin:left center;-webkit-text-stroke:0.1px #000;">8L</div>
<div style="position:absolute;top:279.52px;font-size:8.7px;line-height:10.44px;color:#000;white-space:nowrap;left:52.60px;transform:scaleX(0.84);transform-origin:left center;-webkit-text-stroke:0.1px #000;">8R</div>
<div style="position:absolute;top:279.52px;font-size:8.7px;line-height:10.44px;color:#000;white-space:nowrap;left:63.40px;width:40px;text-align:right;transform:scaleX(0.84);transform-origin:right center;-webkit-text-stroke:0.1px #000;">1</div>
<div style="position:absolute;top:279.52px;font-size:8.7px;line-height:10.44px;color:#000;white-space:nowrap;left:91.40px;width:40px;text-align:right;transform:scaleX(0.84);transform-origin:right center;-webkit-text-stroke:0.1px #000;">18</div>
<div style="position:absolute;top:279.52px;font-size:8.7px;line-height:10.44px;color:#000;white-space:nowrap;left:128.40px;width:40px;text-align:right;transform:scaleX(0.84);transform-origin:right center;-webkit-text-stroke:0.1px #000;">25</div>
<div style="position:absolute;top:279.52px;font-size:8.7px;line-height:10.44px;color:#000;white-space:nowrap;left:150.90px;width:40px;text-align:right;transform:scaleX(0.84);transform-origin:right center;-webkit-text-stroke:0.1px #000;">17.8</div>
<div style="position:absolute;top:279.52px;font-size:8.7px;line-height:10.44px;color:#000;white-space:nowrap;left:173.40px;width:40px;text-align:right;transform:scaleX(0.84);transform-origin:right center;-webkit-text-stroke:0.1px #000;">15.3</div>
<div style="position:absolute;top:279.52px;font-size:8.7px;line-height:10.44px;color:#000;white-space:nowrap;left:194.40px;width:40px;text-align:right;transform:scaleX(0.84);transform-origin:right center;-webkit-text-stroke:0.1px #000;">-2.5</div>
<div style="position:absolute;top:279.52px;font-size:8.7px;line-height:10.44px;color:#000;white-space:nowrap;left:224.40px;width:40px;text-align:right;transform:scaleX(0.84);transform-origin:right center;-webkit-text-stroke:0.1px #000;">1250</div>
<div style="position:absolute;top:290.90px;font-size:7.75px;line-height:9.3px;color:#000;white-space:nowrap;left:5.65px;width:18px;text-align:center;-webkit-text-stroke:0.1px #000;">5</div>
<div style="position:absolute;top:289.41px;font-size:8.7px;line-height:10.44px;color:#000;white-space:nowrap;left:26.10px;transform:scaleX(0.84);transform-origin:left center;-webkit-text-stroke:0.1px #000;">6L</div>
<div style="position:absolute;top:289.41px;font-size:8.7px;line-height:10.44px;color:#000;white-space:nowrap;left:52.60px;transform:scaleX(0.84);transform-origin:left center;-webkit-text-stroke:0.1px #000;">6R</div>
<div style="position:absolute;top:289.41px;font-size:8.7px;line-height:10.44px;color:#000;white-space:nowrap;left:63.40px;width:40px;text-align:right;transform:scaleX(0.84);transform-origin:right center;-webkit-text-stroke:0.1px #000;">1</div>
<div style="position:absolute;top:289.41px;font-size:8.7px;line-height:10.44px;color:#000;white-space:nowrap;left:91.40px;width:40px;text-align:right;transform:scaleX(0.84);transform-origin:right center;-webkit-text-stroke:0.1px #000;">18</div>
<div style="position:absolute;top:289.41px;font-size:8.7px;line-height:10.44px;color:#000;white-space:nowrap;left:128.40px;width:40px;text-align:right;transform:scaleX(0.84);transform-origin:right center;-webkit-text-stroke:0.1px #000;">29</div>
<div style="position:absolute;top:289.41px;font-size:8.7px;line-height:10.44px;color:#000;white-space:nowrap;left:150.90px;width:40px;text-align:right;transform:scaleX(0.84);transform-origin:right center;-webkit-text-stroke:0.1px #000;">15.3</div>
<div style="position:absolute;top:289.41px;font-size:8.7px;line-height:10.44px;color:#000;white-space:nowrap;left:173.40px;width:40px;text-align:right;transform:scaleX(0.84);transform-origin:right center;-webkit-text-stroke:0.1px #000;">12.8</div>
<div style="position:absolute;top:289.41px;font-size:8.7px;line-height:10.44px;color:#000;white-space:nowrap;left:194.40px;width:40px;text-align:right;transform:scaleX(0.84);transform-origin:right center;-webkit-text-stroke:0.1px #000;">-2.5</div>
<div style="position:absolute;top:289.41px;font-size:8.7px;line-height:10.44px;color:#000;white-space:nowrap;left:224.40px;width:40px;text-align:right;transform:scaleX(0.84);transform-origin:right center;-webkit-text-stroke:0.1px #000;">1450</div>
<div style="position:absolute;top:300.79px;font-size:7.75px;line-height:9.3px;color:#000;white-space:nowrap;left:5.65px;width:18px;text-align:center;-webkit-text-stroke:0.1px #000;">6</div>
<div style="position:absolute;top:299.29px;font-size:8.7px;line-height:10.44px;color:#000;white-space:nowrap;left:26.10px;transform:scaleX(0.84);transform-origin:left center;-webkit-text-stroke:0.1px #000;">4L</div>
<div style="position:absolute;top:299.29px;font-size:8.7px;line-height:10.44px;color:#000;white-space:nowrap;left:52.60px;transform:scaleX(0.84);transform-origin:left center;-webkit-text-stroke:0.1px #000;">4R</div>
<div style="position:absolute;top:299.29px;font-size:8.7px;line-height:10.44px;color:#000;white-space:nowrap;left:63.40px;width:40px;text-align:right;transform:scaleX(0.84);transform-origin:right center;-webkit-text-stroke:0.1px #000;">1</div>
<div style="position:absolute;top:299.29px;font-size:8.7px;line-height:10.44px;color:#000;white-space:nowrap;left:91.40px;width:40px;text-align:right;transform:scaleX(0.84);transform-origin:right center;-webkit-text-stroke:0.1px #000;">18</div>
<div style="position:absolute;top:299.29px;font-size:8.7px;line-height:10.44px;color:#000;white-space:nowrap;left:128.40px;width:40px;text-align:right;transform:scaleX(0.84);transform-origin:right center;-webkit-text-stroke:0.1px #000;">33</div>
<div style="position:absolute;top:299.29px;font-size:8.7px;line-height:10.44px;color:#000;white-space:nowrap;left:150.90px;width:40px;text-align:right;transform:scaleX(0.84);transform-origin:right center;-webkit-text-stroke:0.1px #000;">12.8</div>
<div style="position:absolute;top:299.29px;font-size:8.7px;line-height:10.44px;color:#000;white-space:nowrap;left:173.40px;width:40px;text-align:right;transform:scaleX(0.84);transform-origin:right center;-webkit-text-stroke:0.1px #000;">10.3</div>
<div style="position:absolute;top:299.29px;font-size:8.7px;line-height:10.44px;color:#000;white-space:nowrap;left:194.40px;width:40px;text-align:right;transform:scaleX(0.84);transform-origin:right center;-webkit-text-stroke:0.1px #000;">-2.5</div>
<div style="position:absolute;top:299.29px;font-size:8.7px;line-height:10.44px;color:#000;white-space:nowrap;left:224.40px;width:40px;text-align:right;transform:scaleX(0.84);transform-origin:right center;-webkit-text-stroke:0.1px #000;">1650</div>
<div style="position:absolute;top:310.67px;font-size:7.75px;line-height:9.3px;color:#000;white-space:nowrap;left:5.65px;width:18px;text-align:center;-webkit-text-stroke:0.1px #000;">7</div>
<div style="position:absolute;top:309.18px;font-size:8.7px;line-height:10.44px;color:#000;white-space:nowrap;left:26.10px;transform:scaleX(0.84);transform-origin:left center;-webkit-text-stroke:0.1px #000;">2L</div>
<div style="position:absolute;top:309.18px;font-size:8.7px;line-height:10.44px;color:#000;white-space:nowrap;left:52.60px;transform:scaleX(0.84);transform-origin:left center;-webkit-text-stroke:0.1px #000;">2R</div>
<div style="position:absolute;top:309.18px;font-size:8.7px;line-height:10.44px;color:#000;white-space:nowrap;left:63.40px;width:40px;text-align:right;transform:scaleX(0.84);transform-origin:right center;-webkit-text-stroke:0.1px #000;">1</div>
<div style="position:absolute;top:309.18px;font-size:8.7px;line-height:10.44px;color:#000;white-space:nowrap;left:91.40px;width:40px;text-align:right;transform:scaleX(0.84);transform-origin:right center;-webkit-text-stroke:0.1px #000;">18</div>
<div style="position:absolute;top:309.18px;font-size:8.7px;line-height:10.44px;color:#000;white-space:nowrap;left:128.40px;width:40px;text-align:right;transform:scaleX(0.84);transform-origin:right center;-webkit-text-stroke:0.1px #000;">37</div>
<div style="position:absolute;top:309.18px;font-size:8.7px;line-height:10.44px;color:#000;white-space:nowrap;left:150.90px;width:40px;text-align:right;transform:scaleX(0.84);transform-origin:right center;-webkit-text-stroke:0.1px #000;">10.3</div>
<div style="position:absolute;top:309.18px;font-size:8.7px;line-height:10.44px;color:#000;white-space:nowrap;left:173.40px;width:40px;text-align:right;transform:scaleX(0.84);transform-origin:right center;-webkit-text-stroke:0.1px #000;">7.8</div>
<div style="position:absolute;top:309.18px;font-size:8.7px;line-height:10.44px;color:#000;white-space:nowrap;left:194.40px;width:40px;text-align:right;transform:scaleX(0.84);transform-origin:right center;-webkit-text-stroke:0.1px #000;">-2.5</div>
<div style="position:absolute;top:309.18px;font-size:8.7px;line-height:10.44px;color:#000;white-space:nowrap;left:224.40px;width:40px;text-align:right;transform:scaleX(0.84);transform-origin:right center;-webkit-text-stroke:0.1px #000;">1850</div>
<div style="position:absolute;top:320.56px;font-size:7.75px;line-height:9.3px;color:#000;white-space:nowrap;left:5.65px;width:18px;text-align:center;-webkit-text-stroke:0.1px #000;">8</div>
<div style="position:absolute;top:319.06px;font-size:8.7px;line-height:10.44px;color:#000;white-space:nowrap;left:26.10px;transform:scaleX(0.84);transform-origin:left center;-webkit-text-stroke:0.1px #000;">2L</div>
<div style="position:absolute;top:319.06px;font-size:8.7px;line-height:10.44px;color:#000;white-space:nowrap;left:52.60px;transform:scaleX(0.84);transform-origin:left center;-webkit-text-stroke:0.1px #000;">2R</div>
<div style="position:absolute;top:319.06px;font-size:8.7px;line-height:10.44px;color:#000;white-space:nowrap;left:63.40px;width:40px;text-align:right;transform:scaleX(0.84);transform-origin:right center;-webkit-text-stroke:0.1px #000;">0</div>
<div style="position:absolute;top:319.06px;font-size:8.7px;line-height:10.44px;color:#000;white-space:nowrap;left:91.40px;width:40px;text-align:right;transform:scaleX(0.84);transform-origin:right center;-webkit-text-stroke:0.1px #000;">14</div>
<div style="position:absolute;top:319.06px;font-size:8.7px;line-height:10.44px;color:#000;white-space:nowrap;left:128.40px;width:40px;text-align:right;transform:scaleX(0.84);transform-origin:right center;-webkit-text-stroke:0.1px #000;">0</div>
<div style="position:absolute;top:319.06px;font-size:8.7px;line-height:10.44px;color:#000;white-space:nowrap;left:150.90px;width:40px;text-align:right;transform:scaleX(0.84);transform-origin:right center;-webkit-text-stroke:0.1px #000;">7.8</div>
<div style="position:absolute;top:319.06px;font-size:8.7px;line-height:10.44px;color:#000;white-space:nowrap;left:173.40px;width:40px;text-align:right;transform:scaleX(0.84);transform-origin:right center;-webkit-text-stroke:0.1px #000;">0.0</div>
<div style="position:absolute;top:319.06px;font-size:8.7px;line-height:10.44px;color:#000;white-space:nowrap;left:194.40px;width:40px;text-align:right;transform:scaleX(0.84);transform-origin:right center;-webkit-text-stroke:0.1px #000;">-7.8</div>
<div style="position:absolute;top:319.06px;font-size:8.7px;line-height:10.44px;color:#000;white-space:nowrap;left:224.40px;width:40px;text-align:right;transform:scaleX(0.84);transform-origin:right center;-webkit-text-stroke:0.1px #000;">0</div>
<div style="position:absolute;left:5.20px;top:398.00px;width:266.80px;height:11.10px;background:linear-gradient(90deg,#c9d9ef 0%,#c3d5ee 45%,#98b5e5 100%);border-top:1px solid #9fb3d3;"></div>
<div style="position:absolute;left:5.20px;top:398.60px;width:47.80px;height:10.50px;background:#d9e4f5;border-right:1px solid #a9bbdc;"></div>
<svg width="600" height="692"><g fill="#3a4ad2"><rect x="7.6" y="401.20" width="1.1" height="5.60"/><polygon points="13.0,401.20 13.0,406.80 9.0,404.00"/><polygon points="25.8,401.20 25.8,406.80 21.7,404.00"/><polygon points="32.8,401.20 32.8,406.80 37.0,404.00"/><polygon points="45.0,401.20 45.0,406.80 48.8,404.00"/><rect x="49.0" y="401.20" width="1.1" height="5.60"/></g></svg>
<svg width="600" height="692"><defs><linearGradient id="tg" x1="0" y1="0" x2="0" y2="1"><stop offset="0" stop-color="#eaf1fb"/><stop offset="1" stop-color="#c9d9f1"/></linearGradient></defs><polygon points="136.3,398.9 130.0,408.40000000000003 158.0,408.40000000000003 167.5,398.9" fill="url(#tg)" stroke="#8ea2c4" stroke-width="0.7"/><polygon points="53.0,398.9 53.0,408.40000000000003 89.8,408.40000000000003 96.8,398.9" fill="url(#tg)" stroke="#8ea2c4" stroke-width="0.7"/><polygon points="96.8,398.4 89.8,408.40000000000003 130.0,408.40000000000003 136.3,398.4" fill="#ffffff" stroke="#8ea2c4" stroke-width="0.7"/><rect x="97.2" y="397.7" width="38.70000000000002" height="1.3" fill="#fff"/></svg>
<div style="position:absolute;top:399.86px;font-size:7.75px;line-height:9.3px;color:#111;white-space:nowrap;left:42.10px;width:60px;text-align:center;-webkit-text-stroke:0.1px #000;">Forward</div>
<div style="position:absolute;top:399.86px;font-size:7.75px;line-height:9.3px;color:#111;white-space:nowrap;left:82.60px;width:60px;text-align:center;transform:scaleX(0.92);transform-origin:center center;-webkit-text-stroke:0.1px #000;">Reverse</div>
<div style="position:absolute;top:399.86px;font-size:7.75px;line-height:9.3px;color:#111;white-space:nowrap;left:117.60px;width:60px;text-align:center;-webkit-text-stroke:0.1px #000;">More</div>
<div style="position:absolute;top:421.04px;font-size:9.68px;line-height:11.62px;color:#000;white-space:nowrap;left:8.00px;">This Pattern Up Loaded From Slot # 4 In Lane Machine On 11.12.2017 13:25</div>
<div style="position:absolute;top:67.56px;font-size:9.66px;line-height:11.59px;color:#000;white-space:nowrap;left:260.00px;width:120px;text-align:center;">Conditioner:</div>
<div style="position:absolute;top:78.36px;font-size:9.66px;line-height:11.59px;color:#000;white-space:nowrap;left:260.00px;width:120px;text-align:center;">Type In or Select</div>
<div style="position:absolute;top:88.86px;font-size:9.66px;line-height:11.59px;color:#000;white-space:nowrap;left:260.00px;width:120px;text-align:center;">One</div>
<div style="position:absolute;top:104.16px;font-size:9.66px;line-height:11.59px;color:#000;white-space:nowrap;left:260.00px;width:120px;text-align:center;">TransferType:</div>
<div style="position:absolute;top:115.06px;font-size:9.66px;line-height:11.59px;color:#000;white-space:nowrap;left:260.00px;width:120px;text-align:center;">Type In or Select</div>
<div style="position:absolute;top:125.56px;font-size:9.66px;line-height:11.59px;color:#000;white-space:nowrap;left:260.00px;width:120px;text-align:center;">One</div>
<div style="position:absolute;top:173.26px;font-size:9.66px;line-height:11.59px;color:#000;white-space:nowrap;left:258.30px;width:120px;text-align:center;">Forward</div>
<div style="position:absolute;left:293.10px;top:187.00px;width:52.80px;height:19.00px;background:#00ced1;"></div>
<div style="position:absolute;top:208.66px;font-size:9.66px;line-height:11.59px;color:#000;white-space:nowrap;left:258.30px;width:120px;text-align:center;">Reverse</div>
<div style="position:absolute;left:293.10px;top:222.90px;width:52.80px;height:18.00px;background:#0000ff;"></div>
<div style="position:absolute;top:244.86px;font-size:9.66px;line-height:11.59px;color:#000;white-space:nowrap;left:258.30px;width:120px;text-align:center;">Combined</div>
<div style="position:absolute;left:293.10px;top:259.20px;width:52.80px;height:18.50px;background:#00008b;"></div>
<div style="position:absolute;top:280.86px;font-size:9.66px;line-height:11.59px;color:#000;white-space:nowrap;left:258.30px;width:120px;text-align:center;">Buff</div>
<div style="position:absolute;left:293.10px;top:294.60px;width:52.80px;height:18.10px;background:#87ceeb;"></div>
<svg width="600" height="692" shape-rendering="auto"><defs><linearGradient id="b2" x1="0" y1="0" x2="0" y2="1"><stop offset="0.0000" stop-color="#d6f6ff"/><stop offset="0.0940" stop-color="#b9e5ff"/><stop offset="0.1879" stop-color="#9bd0ff"/><stop offset="0.2819" stop-color="#7bb6fe"/><stop offset="0.3758" stop-color="#5a9afa"/><stop offset="0.4698" stop-color="#4383f5"/><stop offset="0.5637" stop-color="#3474f2"/><stop offset="0.6577" stop-color="#2969ef"/><stop offset="0.7517" stop-color="#2060ec"/><stop offset="0.7517" stop-color="#0000dc"/><stop offset="0.9251" stop-color="#0000dc"/><stop offset="0.9251" stop-color="#0000a2"/><stop offset="1.0000" stop-color="#0000a2"/></linearGradient><linearGradient id="b3" x1="0" y1="0" x2="0" y2="1"><stop offset="0.0000" stop-color="#d6f6ff"/><stop offset="0.0940" stop-color="#b9e5ff"/><stop offset="0.1879" stop-color="#9bd0ff"/><stop offset="0.2819" stop-color="#7bb6fe"/><stop offset="0.3758" stop-color="#5a9afa"/><stop offset="0.4698" stop-color="#4383f5"/><stop offset="0.5637" stop-color="#3474f2"/><stop offset="0.6577" stop-color="#2969ef"/><stop offset="0.7517" stop-color="#2060ec"/><stop offset="0.7517" stop-color="#0000dc"/><stop offset="0.9251" stop-color="#0000dc"/><stop offset="0.9251" stop-color="#0000a2"/><stop offset="1.0000" stop-color="#0000a2"/></linearGradient><linearGradient id="b4" x1="0" y1="0" x2="0" y2="1"><stop offset="0.0000" stop-color="#c4e9ff"/><stop offset="0.0843" stop-color="#acdbfe"/><stop offset="0.1686" stop-color="#94c9fe"/><stop offset="0.2529" stop-color="#7bb5fd"/><stop offset="0.3372" stop-color="#629ef9"/><stop offset="0.4215" stop-color="#4c8af6"/><stop offset="0.5058" stop-color="#3978f3"/><stop offset="0.5901" stop-color="#2f6ef0"/><stop offset="0.6744" stop-color="#2665ed"/><stop offset="0.6744" stop-color="#0002e2"/><stop offset="0.8763" stop-color="#0002e2"/><stop offset="0.8763" stop-color="#0000a6"/><stop offset="1.0000" stop-color="#0000a6"/></linearGradient><linearGradient id="b5" x1="0" y1="0" x2="0" y2="1"><stop offset="0.0000" stop-color="#c4e9ff"/><stop offset="0.0843" stop-color="#acdbfe"/><stop offset="0.1686" stop-color="#94c9fe"/><stop offset="0.2529" stop-color="#7bb5fd"/><stop offset="0.3372" stop-color="#629ef9"/><stop offset="0.4215" stop-color="#4c8af6"/><stop offset="0.5058" stop-color="#3978f3"/><stop offset="0.5901" stop-color="#2f6ef0"/><stop offset="0.6744" stop-color="#2665ed"/><stop offset="0.6744" stop-color="#0002e2"/><stop offset="0.8763" stop-color="#0002e2"/><stop offset="0.8763" stop-color="#0000a6"/><stop offset="1.0000" stop-color="#0000a6"/></linearGradient><linearGradient id="b6" x1="0" y1="0" x2="0" y2="1"><stop offset="0.0000" stop-color="#b2ddff"/><stop offset="0.0781" stop-color="#9dcffe"/><stop offset="0.1562" stop-color="#89c0fc"/><stop offset="0.2343" stop-color="#76affb"/><stop offset="0.3123" stop-color="#629df8"/><stop offset="0.3904" stop-color="#4f8bf5"/><stop offset="0.4685" stop-color="#3f7cf3"/><stop offset="0.5466" stop-color="#3370f0"/><stop offset="0.6247" stop-color="#2967ed"/><stop offset="0.6247" stop-color="#0410ee"/><stop offset="0.8004" stop-color="#0410ee"/><stop offset="0.8004" stop-color="#0000a2"/><stop offset="1.0000" stop-color="#0000a2"/></linearGradient><linearGradient id="b7" x1="0" y1="0" x2="0" y2="1"><stop offset="0.0000" stop-color="#b2ddff"/><stop offset="0.0781" stop-color="#9dcffe"/><stop offset="0.1562" stop-color="#89c0fc"/><stop offset="0.2343" stop-color="#76affb"/><stop offset="0.3123" stop-color="#629df8"/><stop offset="0.3904" stop-color="#4f8bf5"/><stop offset="0.4685" stop-color="#3f7cf3"/><stop offset="0.5466" stop-color="#3370f0"/><stop offset="0.6247" stop-color="#2967ed"/><stop offset="0.6247" stop-color="#0410ee"/><stop offset="0.8004" stop-color="#0410ee"/><stop offset="0.8004" stop-color="#0000a2"/><stop offset="1.0000" stop-color="#0000a2"/></linearGradient><linearGradient id="b8" x1="0" y1="0" x2="0" y2="1"><stop offset="0.0000" stop-color="#a0d0ff"/><stop offset="0.0687" stop-color="#90c4fd"/><stop offset="0.1374" stop-color="#7fb8fc"/><stop offset="0.2060" stop-color="#71aaf9"/><stop offset="0.2747" stop-color="#639df7"/><stop offset="0.3434" stop-color="#558ff5"/><stop offset="0.4121" stop-color="#4782f3"/><stop offset="0.4807" stop-color="#3a75f1"/><stop offset="0.5494" stop-color="#316dee"/><stop offset="0.5494" stop-color="#0004dc"/><stop offset="0.6744" stop-color="#0004dc"/><stop offset="0.6744" stop-color="#00009c"/><stop offset="1.0000" stop-color="#00009c"/></linearGradient><linearGradient id="b9" x1="0" y1="0" x2="0" y2="1"><stop offset="0.0000" stop-color="#a0d0ff"/><stop offset="0.0687" stop-color="#90c4fd"/><stop offset="0.1374" stop-color="#7fb8fc"/><stop offset="0.2060" stop-color="#71aaf9"/><stop offset="0.2747" stop-color="#639df7"/><stop offset="0.3434" stop-color="#558ff5"/><stop offset="0.4121" stop-color="#4782f3"/><stop offset="0.4807" stop-color="#3a75f1"/><stop offset="0.5494" stop-color="#316dee"/><stop offset="0.5494" stop-color="#0004dc"/><stop offset="0.6744" stop-color="#0004dc"/><stop offset="0.6744" stop-color="#00009c"/><stop offset="1.0000" stop-color="#00009c"/></linearGradient><linearGradient id="b10" x1="0" y1="0" x2="0" y2="1"><stop offset="0.0000" stop-color="#68a4f6"/><stop offset="0.0530" stop-color="#609cf4"/><stop offset="0.1060" stop-color="#5793f3"/><stop offset="0.1590" stop-color="#4f8bf1"/><stop offset="0.2120" stop-color="#4783f1"/><stop offset="0.2650" stop-color="#407cf0"/><stop offset="0.3181" stop-color="#3874ee"/><stop offset="0.3711" stop-color="#316dec"/><stop offset="0.4241" stop-color="#2b67ea"/><stop offset="0.4241" stop-color="#0002d8"/><stop offset="0.5494" stop-color="#0002d8"/><stop offset="0.5494" stop-color="#0000ac"/><stop offset="1.0000" stop-color="#0000ac"/></linearGradient><linearGradient id="b11" x1="0" y1="0" x2="0" y2="1"><stop offset="0.0000" stop-color="#68a4f6"/><stop offset="0.0530" stop-color="#609cf4"/><stop offset="0.1060" stop-color="#5793f3"/><stop offset="0.1590" stop-color="#4f8bf1"/><stop offset="0.2120" stop-color="#4783f1"/><stop offset="0.2650" stop-color="#407cf0"/><stop offset="0.3181" stop-color="#3874ee"/><stop offset="0.3711" stop-color="#316dec"/><stop offset="0.4241" stop-color="#2b67ea"/><stop offset="0.4241" stop-color="#0002d8"/><stop offset="0.5494" stop-color="#0002d8"/><stop offset="0.5494" stop-color="#0000ac"/><stop offset="1.0000" stop-color="#0000ac"/></linearGradient><linearGradient id="b12" x1="0" y1="0" x2="0" y2="1"><stop offset="0.0000" stop-color="#4c8cf4"/><stop offset="0.0375" stop-color="#4584f2"/><stop offset="0.0749" stop-color="#3e7bf0"/><stop offset="0.1124" stop-color="#3673ef"/><stop offset="0.1499" stop-color="#306ced"/><stop offset="0.1873" stop-color="#2b66eb"/><stop offset="0.2248" stop-color="#2660e9"/><stop offset="0.2623" stop-color="#215ae8"/><stop offset="0.2997" stop-color="#1c56e6"/><stop offset="0.2997" stop-color="#0206ce"/><stop offset="0.3501" stop-color="#0206ce"/><stop offset="0.3501" stop-color="#00009e"/><stop offset="1.0000" stop-color="#00009e"/></linearGradient><linearGradient id="b13" x1="0" y1="0" x2="0" y2="1"><stop offset="0.0000" stop-color="#4c8cf4"/><stop offset="0.0375" stop-color="#4584f2"/><stop offset="0.0749" stop-color="#3e7bf0"/><stop offset="0.1124" stop-color="#3673ef"/><stop offset="0.1499" stop-color="#306ced"/><stop offset="0.1873" stop-color="#2b66eb"/><stop offset="0.2248" stop-color="#2660e9"/><stop offset="0.2623" stop-color="#215ae8"/><stop offset="0.2997" stop-color="#1c56e6"/><stop offset="0.2997" stop-color="#0206ce"/><stop offset="0.3501" stop-color="#0206ce"/><stop offset="0.3501" stop-color="#00009e"/><stop offset="1.0000" stop-color="#00009e"/></linearGradient><linearGradient id="b14" x1="0" y1="0" x2="0" y2="1"><stop offset="0.0000" stop-color="#4c8cf4"/><stop offset="0.0375" stop-color="#4584f2"/><stop offset="0.0749" stop-color="#3e7bf0"/><stop offset="0.1124" stop-color="#3673ef"/><stop offset="0.1499" stop-color="#306ced"/><stop offset="0.1873" stop-color="#2b66eb"/><stop offset="0.2248" stop-color="#2660e9"/><stop offset="0.2623" stop-color="#215ae8"/><stop offset="0.2997" stop-color="#1c56e6"/><stop offset="0.2997" stop-color="#0206ce"/><stop offset="0.3501" stop-color="#0206ce"/><stop offset="0.3501" stop-color="#00009e"/><stop offset="1.0000" stop-color="#00009e"/></linearGradient><linearGradient id="b15" x1="0" y1="0" x2="0" y2="1"><stop offset="0.0000" stop-color="#4c8cf4"/><stop offset="0.0375" stop-color="#4584f2"/><stop offset="0.0749" stop-color="#3e7bf0"/><stop offset="0.1124" stop-color="#3673ef"/><stop offset="0.1499" stop-color="#306ced"/><stop offset="0.1873" stop-color="#2b66eb"/><stop offset="0.2248" stop-color="#2660e9"/><stop offset="0.2623" stop-color="#215ae8"/><stop offset="0.2997" stop-color="#1c56e6"/><stop offset="0.2997" stop-color="#0206ce"/><stop offset="0.3501" stop-color="#0206ce"/><stop offset="0.3501" stop-color="#00009e"/><stop offset="1.0000" stop-color="#00009e"/></linearGradient><linearGradient id="b16" x1="0" y1="0" x2="0" y2="1"><stop offset="0.0000" stop-color="#4c8cf4"/><stop offset="0.0375" stop-color="#4584f2"/><stop offset="0.0749" stop-color="#3e7bf0"/><stop offset="0.1124" stop-color="#3673ef"/><stop offset="0.1499" stop-color="#306ced"/><stop offset="0.1873" stop-color="#2b66eb"/><stop offset="0.2248" stop-color="#2660e9"/><stop offset="0.2623" stop-color="#215ae8"/><stop offset="0.2997" stop-color="#1c56e6"/><stop offset="0.2997" stop-color="#0206ce"/><stop offset="0.3501" stop-color="#0206ce"/><stop offset="0.3501" stop-color="#00009e"/><stop offset="1.0000" stop-color="#00009e"/></linearGradient><linearGradient id="b17" x1="0" y1="0" x2="0" y2="1"><stop offset="0.0000" stop-color="#4c8cf4"/><stop offset="0.0375" stop-color="#4584f2"/><stop offset="0.0749" stop-color="#3e7bf0"/><stop offset="0.1124" stop-color="#3673ef"/><stop offset="0.1499" stop-color="#306ced"/><stop offset="0.1873" stop-color="#2b66eb"/><stop offset="0.2248" stop-color="#2660e9"/><stop offset="0.2623" stop-color="#215ae8"/><stop offset="0.2997" stop-color="#1c56e6"/><stop offset="0.2997" stop-color="#0206ce"/><stop offset="0.3501" stop-color="#0206ce"/><stop offset="0.3501" stop-color="#00009e"/><stop offset="1.0000" stop-color="#00009e"/></linearGradient><linearGradient id="b18" x1="0" y1="0" x2="0" y2="1"><stop offset="0.0000" stop-color="#4c8cf4"/><stop offset="0.0375" stop-color="#4584f2"/><stop offset="0.0749" stop-color="#3e7bf0"/><stop offset="0.1124" stop-color="#3673ef"/><stop offset="0.1499" stop-color="#306ced"/><stop offset="0.1873" stop-color="#2b66eb"/><stop offset="0.2248" stop-color="#2660e9"/><stop offset="0.2623" stop-color="#215ae8"/><stop offset="0.2997" stop-color="#1c56e6"/><stop offset="0.2997" stop-color="#0206ce"/><stop offset="0.3501" stop-color="#0206ce"/><stop offset="0.3501" stop-color="#00009e"/><stop offset="1.0000" stop-color="#00009e"/></linearGradient><linearGradient id="b19" x1="0" y1="0" x2="0" y2="1"><stop offset="0.0000" stop-color="#4c8cf4"/><stop offset="0.0375" stop-color="#4584f2"/><stop offset="0.0749" stop-color="#3e7bf0"/><stop offset="0.1124" stop-color="#3673ef"/><stop offset="0.1499" stop-color="#306ced"/><stop offset="0.1873" stop-color="#2b66eb"/><stop offset="0.2248" stop-color="#2660e9"/><stop offset="0.2623" stop-color="#215ae8"/><stop offset="0.2997" stop-color="#1c56e6"/><stop offset="0.2997" stop-color="#0206ce"/><stop offset="0.3501" stop-color="#0206ce"/><stop offset="0.3501" stop-color="#00009e"/><stop offset="1.0000" stop-color="#00009e"/></linearGradient><linearGradient id="b20" x1="0" y1="0" x2="0" y2="1"><stop offset="0.0000" stop-color="#4c8cf4"/><stop offset="0.0375" stop-color="#4584f2"/><stop offset="0.0749" stop-color="#3e7bf0"/><stop offset="0.1124" stop-color="#3673ef"/><stop offset="0.1499" stop-color="#306ced"/><stop offset="0.1873" stop-color="#2b66eb"/><stop offset="0.2248" stop-color="#2660e9"/><stop offset="0.2623" stop-color="#215ae8"/><stop offset="0.2997" stop-color="#1c56e6"/><stop offset="0.2997" stop-color="#0206ce"/><stop offset="0.3501" stop-color="#0206ce"/><stop offset="0.3501" stop-color="#00009e"/><stop offset="1.0000" stop-color="#00009e"/></linearGradient><linearGradient id="b21" x1="0" y1="0" x2="0" y2="1"><stop offset="0.0000" stop-color="#4c8cf4"/><stop offset="0.0375" stop-color="#4584f2"/><stop offset="0.0749" stop-color="#3e7bf0"/><stop offset="0.1124" stop-color="#3673ef"/><stop offset="0.1499" stop-color="#306ced"/><stop offset="0.1873" stop-color="#2b66eb"/><stop offset="0.2248" stop-color="#2660e9"/><stop offset="0.2623" stop-color="#215ae8"/><stop offset="0.2997" stop-color="#1c56e6"/><stop offset="0.2997" stop-color="#0206ce"/><stop offset="0.3501" stop-color="#0206ce"/><stop offset="0.3501" stop-color="#00009e"/><stop offset="1.0000" stop-color="#00009e"/></linearGradient><linearGradient id="b22" x1="0" y1="0" x2="0" y2="1"><stop offset="0.0000" stop-color="#4c8cf4"/><stop offset="0.0375" stop-color="#4584f2"/><stop offset="0.0749" stop-color="#3e7bf0"/><stop offset="0.1124" stop-color="#3673ef"/><stop offset="0.1499" stop-color="#306ced"/><stop offset="0.1873" stop-color="#2b66eb"/><stop offset="0.2248" stop-color="#2660e9"/><stop offset="0.2623" stop-color="#215ae8"/><stop offset="0.2997" stop-color="#1c56e6"/><stop offset="0.2997" stop-color="#0206ce"/><stop offset="0.3501" stop-color="#0206ce"/><stop offset="0.3501" stop-color="#00009e"/><stop offset="1.0000" stop-color="#00009e"/></linearGradient><linearGradient id="b23" x1="0" y1="0" x2="0" y2="1"><stop offset="0.0000" stop-color="#4c8cf4"/><stop offset="0.0375" stop-color="#4584f2"/><stop offset="0.0749" stop-color="#3e7bf0"/><stop offset="0.1124" stop-color="#3673ef"/><stop offset="0.1499" stop-color="#306ced"/><stop offset="0.1873" stop-color="#2b66eb"/><stop offset="0.2248" stop-color="#2660e9"/><stop offset="0.2623" stop-color="#215ae8"/><stop offset="0.2997" stop-color="#1c56e6"/><stop offset="0.2997" stop-color="#0206ce"/><stop offset="0.3501" stop-color="#0206ce"/><stop offset="0.3501" stop-color="#00009e"/><stop offset="1.0000" stop-color="#00009e"/></linearGradient><linearGradient id="b24" x1="0" y1="0" x2="0" y2="1"><stop offset="0.0000" stop-color="#4c8cf4"/><stop offset="0.0375" stop-color="#4584f2"/><stop offset="0.0749" stop-color="#3e7bf0"/><stop offset="0.1124" stop-color="#3673ef"/><stop offset="0.1499" stop-color="#306ced"/><stop offset="0.1873" stop-color="#2b66eb"/><stop offset="0.2248" stop-color="#2660e9"/><stop offset="0.2623" stop-color="#215ae8"/><stop offset="0.2997" stop-color="#1c56e6"/><stop offset="0.2997" stop-color="#0206ce"/><stop offset="0.3501" stop-color="#0206ce"/><stop offset="0.3501" stop-color="#00009e"/><stop offset="1.0000" stop-color="#00009e"/></linearGradient><linearGradient id="b25" x1="0" y1="0" x2="0" y2="1"><stop offset="0.0000" stop-color="#4c8cf4"/><stop offset="0.0375" stop-color="#4584f2"/><stop offset="0.0749" stop-color="#3e7bf0"/><stop offset="0.1124" stop-color="#3673ef"/><stop offset="0.1499" stop-color="#306ced"/><stop offset="0.1873" stop-color="#2b66eb"/><stop offset="0.2248" stop-color="#2660e9"/><stop offset="0.2623" stop-color="#215ae8"/><stop offset="0.2997" stop-color="#1c56e6"/><stop offset="0.2997" stop-color="#0206ce"/><stop offset="0.3501" stop-color="#0206ce"/><stop offset="0.3501" stop-color="#00009e"/><stop offset="1.0000" stop-color="#00009e"/></linearGradient><linearGradient id="b26" x1="0" y1="0" x2="0" y2="1"><stop offset="0.0000" stop-color="#4c8cf4"/><stop offset="0.0375" stop-color="#4584f2"/><stop offset="0.0749" stop-color="#3e7bf0"/><stop offset="0.1124" stop-color="#3673ef"/><stop offset="0.1499" stop-color="#306ced"/><stop offset="0.1873" stop-color="#2b66eb"/><stop offset="0.2248" stop-color="#2660e9"/><stop offset="0.2623" stop-color="#215ae8"/><stop offset="0.2997" stop-color="#1c56e6"/><stop offset="0.2997" stop-color="#0206ce"/><stop offset="0.3501" stop-color="#0206ce"/><stop offset="0.3501" stop-color="#00009e"/><stop offset="1.0000" stop-color="#00009e"/></linearGradient><linearGradient id="b27" x1="0" y1="0" x2="0" y2="1"><stop offset="0.0000" stop-color="#4c8cf4"/><stop offset="0.0375" stop-color="#4584f2"/><stop offset="0.0749" stop-color="#3e7bf0"/><stop offset="0.1124" stop-color="#3673ef"/><stop offset="0.1499" stop-color="#306ced"/><stop offset="0.1873" stop-color="#2b66eb"/><stop offset="0.2248" stop-color="#2660e9"/><stop offset="0.2623" stop-color="#215ae8"/><stop offset="0.2997" stop-color="#1c56e6"/><stop offset="0.2997" stop-color="#0206ce"/><stop offset="0.3501" stop-color="#0206ce"/><stop offset="0.3501" stop-color="#00009e"/><stop offset="1.0000" stop-color="#00009e"/></linearGradient><linearGradient id="b28" x1="0" y1="0" x2="0" y2="1"><stop offset="0.0000" stop-color="#4c8cf4"/><stop offset="0.0375" stop-color="#4584f2"/><stop offset="0.0749" stop-color="#3e7bf0"/><stop offset="0.1124" stop-color="#3673ef"/><stop offset="0.1499" stop-color="#306ced"/><stop offset="0.1873" stop-color="#2b66eb"/><stop offset="0.2248" stop-color="#2660e9"/><stop offset="0.2623" stop-color="#215ae8"/><stop offset="0.2997" stop-color="#1c56e6"/><stop offset="0.2997" stop-color="#0206ce"/><stop offset="0.3501" stop-color="#0206ce"/><stop offset="0.3501" stop-color="#00009e"/><stop offset="1.0000" stop-color="#00009e"/></linearGradient><linearGradient id="b29" x1="0" y1="0" x2="0" y2="1"><stop offset="0.0000" stop-color="#68a4f6"/><stop offset="0.0530" stop-color="#609cf4"/><stop offset="0.1060" stop-color="#5793f3"/><stop offset="0.1590" stop-color="#4f8bf1"/><stop offset="0.2120" stop-color="#4783f1"/><stop offset="0.2650" stop-color="#407cf0"/><stop offset="0.3181" stop-color="#3874ee"/><stop offset="0.3711" stop-color="#316dec"/><stop offset="0.4241" stop-color="#2b67ea"/><stop offset="0.4241" stop-color="#0002d8"/><stop offset="0.5494" stop-color="#0002d8"/><stop offset="0.5494" stop-color="#0000ac"/><stop offset="1.0000" stop-color="#0000ac"/></linearGradient><linearGradient id="b30" x1="0" y1="0" x2="0" y2="1"><stop offset="0.0000" stop-color="#68a4f6"/><stop offset="0.0530" stop-color="#609cf4"/><stop offset="0.1060" stop-color="#5793f3"/><stop offset="0.1590" stop-color="#4f8bf1"/><stop offset="0.2120" stop-color="#4783f1"/><stop offset="0.2650" stop-color="#407cf0"/><stop offset="0.3181" stop-color="#3874ee"/><stop offset="0.3711" stop-color="#316dec"/><stop offset="0.4241" stop-color="#2b67ea"/><stop offset="0.4241" stop-color="#0002d8"/><stop offset="0.5494" stop-color="#0002d8"/><stop offset="0.5494" stop-color="#0000ac"/><stop offset="1.0000" stop-color="#0000ac"/></linearGradient><linearGradient id="b31" x1="0" y1="0" x2="0" y2="1"><stop offset="0.0000" stop-color="#a0d0ff"/><stop offset="0.0687" stop-color="#90c4fd"/><stop offset="0.1374" stop-color="#7fb8fc"/><stop offset="0.2060" stop-color="#71aaf9"/><stop offset="0.2747" stop-color="#639df7"/><stop offset="0.3434" stop-color="#558ff5"/><stop offset="0.4121" stop-color="#4782f3"/><stop offset="0.4807" stop-color="#3a75f1"/><stop offset="0.5494" stop-color="#316dee"/><stop offset="0.5494" stop-color="#0004dc"/><stop offset="0.6744" stop-color="#0004dc"/><stop offset="0.6744" stop-color="#00009c"/><stop offset="1.0000" stop-color="#00009c"/></linearGradient><linearGradient id="b32" x1="0" y1="0" x2="0" y2="1"><stop offset="0.0000" stop-color="#a0d0ff"/><stop offset="0.0687" stop-color="#90c4fd"/><stop offset="0.1374" stop-color="#7fb8fc"/><stop offset="0.2060" stop-color="#71aaf9"/><stop offset="0.2747" stop-color="#639df7"/><stop offset="0.3434" stop-color="#558ff5"/><stop offset="0.4121" stop-color="#4782f3"/><stop offset="0.4807" stop-color="#3a75f1"/><stop offset="0.5494" stop-color="#316dee"/><stop offset="0.5494" stop-color="#0004dc"/><stop offset="0.6744" stop-color="#0004dc"/><stop offset="0.6744" stop-color="#00009c"/><stop offset="1.0000" stop-color="#00009c"/></linearGradient><linearGradient id="b33" x1="0" y1="0" x2="0" y2="1"><stop offset="0.0000" stop-color="#b2ddff"/><stop offset="0.0781" stop-color="#9dcffe"/><stop offset="0.1562" stop-color="#89c0fc"/><stop offset="0.2343" stop-color="#76affb"/><stop offset="0.3123" stop-color="#629df8"/><stop offset="0.3904" stop-color="#4f8bf5"/><stop offset="0.4685" stop-color="#3f7cf3"/><stop offset="0.5466" stop-color="#3370f0"/><stop offset="0.6247" stop-color="#2967ed"/><stop offset="0.6247" stop-color="#0410ee"/><stop offset="0.8004" stop-color="#0410ee"/><stop offset="0.8004" stop-color="#0000a2"/><stop offset="1.0000" stop-color="#0000a2"/></linearGradient><linearGradient id="b34" x1="0" y1="0" x2="0" y2="1"><stop offset="0.0000" stop-color="#b2ddff"/><stop offset="0.0781" stop-color="#9dcffe"/><stop offset="0.1562" stop-color="#89c0fc"/><stop offset="0.2343" stop-color="#76affb"/><stop offset="0.3123" stop-color="#629df8"/><stop offset="0.3904" stop-color="#4f8bf5"/><stop offset="0.4685" stop-color="#3f7cf3"/><stop offset="0.5466" stop-color="#3370f0"/><stop offset="0.6247" stop-color="#2967ed"/><stop offset="0.6247" stop-color="#0410ee"/><stop offset="0.8004" stop-color="#0410ee"/><stop offset="0.8004" stop-color="#0000a2"/><stop offset="1.0000" stop-color="#0000a2"/></linearGradient><linearGradient id="b35" x1="0" y1="0" x2="0" y2="1"><stop offset="0.0000" stop-color="#c4e9ff"/><stop offset="0.0843" stop-color="#acdbfe"/><stop offset="0.1686" stop-color="#94c9fe"/><stop offset="0.2529" stop-color="#7bb5fd"/><stop offset="0.3372" stop-color="#629ef9"/><stop offset="0.4215" stop-color="#4c8af6"/><stop offset="0.5058" stop-color="#3978f3"/><stop offset="0.5901" stop-color="#2f6ef0"/><stop offset="0.6744" stop-color="#2665ed"/><stop offset="0.6744" stop-color="#0002e2"/><stop offset="0.8763" stop-color="#0002e2"/><stop offset="0.8763" stop-color="#0000a6"/><stop offset="1.0000" stop-color="#0000a6"/></linearGradient><linearGradient id="b36" x1="0" y1="0" x2="0" y2="1"><stop offset="0.0000" stop-color="#c4e9ff"/><stop offset="0.0843" stop-color="#acdbfe"/><stop offset="0.1686" stop-color="#94c9fe"/><stop offset="0.2529" stop-color="#7bb5fd"/><stop offset="0.3372" stop-color="#629ef9"/><stop offset="0.4215" stop-color="#4c8af6"/><stop offset="0.5058" stop-color="#3978f3"/><stop offset="0.5901" stop-color="#2f6ef0"/><stop offset="0.6744" stop-color="#2665ed"/><stop offset="0.6744" stop-color="#0002e2"/><stop offset="0.8763" stop-color="#0002e2"/><stop offset="0.8763" stop-color="#0000a6"/><stop offset="1.0000" stop-color="#0000a6"/></linearGradient><linearGradient id="b37" x1="0" y1="0" x2="0" y2="1"><stop offset="0.0000" stop-color="#d6f6ff"/><stop offset="0.0940" stop-color="#b9e5ff"/><stop offset="0.1879" stop-color="#9bd0ff"/><stop offset="0.2819" stop-color="#7bb6fe"/><stop offset="0.3758" stop-color="#5a9afa"/><stop offset="0.4698" stop-color="#4383f5"/><stop offset="0.5637" stop-color="#3474f2"/><stop offset="0.6577" stop-color="#2969ef"/><stop offset="0.7517" stop-color="#2060ec"/><stop offset="0.7517" stop-color="#0000dc"/><stop offset="0.9251" stop-color="#0000dc"/><stop offset="0.9251" stop-color="#0000a2"/><stop offset="1.0000" stop-color="#0000a2"/></linearGradient><linearGradient id="b38" x1="0" y1="0" x2="0" y2="1"><stop offset="0.0000" stop-color="#d6f6ff"/><stop offset="0.0940" stop-color="#b9e5ff"/><stop offset="0.1879" stop-color="#9bd0ff"/><stop offset="0.2819" stop-color="#7bb6fe"/><stop offset="0.3758" stop-color="#5a9afa"/><stop offset="0.4698" stop-color="#4383f5"/><stop offset="0.5637" stop-color="#3474f2"/><stop offset="0.6577" stop-color="#2969ef"/><stop offset="0.7517" stop-color="#2060ec"/><stop offset="0.7517" stop-color="#0000dc"/><stop offset="0.9251" stop-color="#0000dc"/><stop offset="0.9251" stop-color="#0000a2"/><stop offset="1.0000" stop-color="#0000a2"/></linearGradient><linearGradient id="sh" x1="0" y1="0" x2="0" y2="1"><stop offset="0" stop-color="#6e6e6e"/><stop offset="0.55" stop-color="#8c8c8c"/><stop offset="1" stop-color="#b0b0b0" stop-opacity="0.3"/></linearGradient><linearGradient id="bs" x1="0" y1="0" x2="1" y2="0"><stop offset="0" stop-color="#000" stop-opacity="0"/><stop offset="0.45" stop-color="#000" stop-opacity="0.01"/><stop offset="1" stop-color="#000" stop-opacity="0.10"/></linearGradient></defs><rect x="364.6" y="57.0" width="230.19999999999993" height="445.2" fill="#fdd67b"/><rect x="365.1" y="502.2" width="208.00" height="3.6" fill="url(#sh)"/><rect x="573.00" y="501.2" width="21.80" height="4.4" fill="#fdd67b"/><rect x="370.60" y="200.6" width="5.36" height="301.60" fill="url(#b2)"/><rect x="375.91" y="200.6" width="5.36" height="301.60" fill="url(#b3)"/><rect x="381.22" y="200.6" width="5.36" height="301.60" fill="url(#b4)"/><rect x="386.53" y="200.6" width="5.36" height="301.60" fill="url(#b5)"/><rect x="391.84" y="200.6" width="5.36" height="301.60" fill="url(#b6)"/><rect x="397.15" y="200.6" width="5.36" height="301.60" fill="url(#b7)"/><rect x="402.46" y="200.6" width="5.36" height="301.60" fill="url(#b8)"/><rect x="407.77" y="200.6" width="5.36" height="301.60" fill="url(#b9)"/><rect x="413.08" y="200.6" width="5.36" height="301.60" fill="url(#b10)"/><rect x="418.39" y="200.6" width="5.36" height="301.60" fill="url(#b11)"/><rect x="423.71" y="200.6" width="5.36" height="301.60" fill="url(#b12)"/><rect x="429.02" y="200.6" width="5.36" height="301.60" fill="url(#b13)"/><rect x="434.33" y="200.6" width="5.36" height="301.60" fill="url(#b14)"/><rect x="439.64" y="200.6" width="5.36" height="301.60" fill="url(#b15)"/><rect x="444.95" y="200.6" width="5.36" height="301.60" fill="url(#b16)"/><rect x="450.26" y="200.6" width="5.36" height="301.60" fill="url(#b17)"/><rect x="455.57" y="200.6" width="5.36" height="301.60" fill="url(#b18)"/><rect x="460.88" y="200.6" width="5.36" height="301.60" fill="url(#b19)"/><rect x="466.19" y="200.6" width="5.36" height="301.60" fill="url(#b20)"/><rect x="471.50" y="200.6" width="5.36" height="301.60" fill="url(#b21)"/><rect x="476.81" y="200.6" width="5.36" height="301.60" fill="url(#b22)"/><rect x="482.12" y="200.6" width="5.36" height="301.60" fill="url(#b23)"/><rect x="487.43" y="200.6" width="5.36" height="301.60" fill="url(#b24)"/><rect x="492.74" y="200.6" width="5.36" height="301.60" fill="url(#b25)"/><rect x="498.05" y="200.6" width="5.36" height="301.60" fill="url(#b26)"/><rect x="503.36" y="200.6" width="5.36" height="301.60" fill="url(#b27)"/><rect x="508.67" y="200.6" width="5.36" height="301.60" fill="url(#b28)"/><rect x="513.98" y="200.6" width="5.36" height="301.60" fill="url(#b29)"/><rect x="519.29" y="200.6" width="5.36" height="301.60" fill="url(#b30)"/><rect x="524.60" y="200.6" width="5.36" height="301.60" fill="url(#b31)"/><rect x="529.91" y="200.6" width="5.36" height="301.60" fill="url(#b32)"/><rect x="535.23" y="200.6" width="5.36" height="301.60" fill="url(#b33)"/><rect x="540.54" y="200.6" width="5.36" height="301.60" fill="url(#b34)"/><rect x="545.85" y="200.6" width="5.36" height="301.60" fill="url(#b35)"/><rect x="551.16" y="200.6" width="5.36" height="301.60" fill="url(#b36)"/><rect x="556.47" y="200.6" width="5.36" height="301.60" fill="url(#b37)"/><rect x="561.78" y="200.6" width="5.36" height="301.60" fill="url(#b38)"/><rect x="370.60" y="58.0" width="5.31" height="444.20" fill="url(#bs)"/><rect x="375.91" y="58.0" width="5.31" height="444.20" fill="url(#bs)"/><rect x="381.22" y="58.0" width="5.31" height="444.20" fill="url(#bs)"/><rect x="386.53" y="58.0" width="5.31" height="444.20" fill="url(#bs)"/><rect x="391.84" y="58.0" width="5.31" height="444.20" fill="url(#bs)"/><rect x="397.15" y="58.0" width="5.31" height="444.20" fill="url(#bs)"/><rect x="402.46" y="58.0" width="5.31" height="444.20" fill="url(#bs)"/><rect x="407.77" y="58.0" width="5.31" height="444.20" fill="url(#bs)"/><rect x="413.08" y="58.0" width="5.31" height="444.20" fill="url(#bs)"/><rect x="418.39" y="58.0" width="5.31" height="444.20" fill="url(#bs)"/><rect x="423.71" y="58.0" width="5.31" height="444.20" fill="url(#bs)"/><rect x="429.02" y="58.0" width="5.31" height="444.20" fill="url(#bs)"/><rect x="434.33" y="58.0" width="5.31" height="444.20" fill="url(#bs)"/><rect x="439.64" y="58.0" width="5.31" height="444.20" fill="url(#bs)"/><rect x="444.95" y="58.0" width="5.31" height="444.20" fill="url(#bs)"/><rect x="450.26" y="58.0" width="5.31" height="444.20" fill="url(#bs)"/><rect x="455.57" y="58.0" width="5.31" height="444.20" fill="url(#bs)"/><rect x="460.88" y="58.0" width="5.31" height="444.20" fill="url(#bs)"/><rect x="466.19" y="58.0" width="5.31" height="444.20" fill="url(#bs)"/><rect x="471.50" y="58.0" width="5.31" height="444.20" fill="url(#bs)"/><rect x="476.81" y="58.0" width="5.31" height="444.20" fill="url(#bs)"/><rect x="482.12" y="58.0" width="5.31" height="444.20" fill="url(#bs)"/><rect x="487.43" y="58.0" width="5.31" height="444.20" fill="url(#bs)"/><rect x="492.74" y="58.0" width="5.31" height="444.20" fill="url(#bs)"/><rect x="498.05" y="58.0" width="5.31" height="444.20" fill="url(#bs)"/><rect x="503.36" y="58.0" width="5.31" height="444.20" fill="url(#bs)"/><rect x="508.67" y="58.0" width="5.31" height="444.20" fill="url(#bs)"/><rect x="513.98" y="58.0" width="5.31" height="444.20" fill="url(#bs)"/><rect x="519.29" y="58.0" width="5.31" height="444.20" fill="url(#bs)"/><rect x="524.60" y="58.0" width="5.31" height="444.20" fill="url(#bs)"/><rect x="529.91" y="58.0" width="5.31" height="444.20" fill="url(#bs)"/><rect x="535.23" y="58.0" width="5.31" height="444.20" fill="url(#bs)"/><rect x="540.54" y="58.0" width="5.31" height="444.20" fill="url(#bs)"/><rect x="545.85" y="58.0" width="5.31" height="444.20" fill="url(#bs)"/><rect x="551.16" y="58.0" width="5.31" height="444.20" fill="url(#bs)"/><rect x="556.47" y="58.0" width="5.31" height="444.20" fill="url(#bs)"/><rect x="561.78" y="58.0" width="5.31" height="444.20" fill="url(#bs)"/><rect x="567.09" y="58.0" width="5.31" height="444.20" fill="url(#bs)"/><rect x="364.6" y="56.8" width="207.79899999999998" height="1.2" fill="#ae8240"/><rect x="364.6" y="57.0" width="1" height="445.2" fill="#b99a5c"/><rect x="593.8" y="57.0" width="1.0" height="448.59999999999997" fill="#b0aca4"/><rect x="369.65" y="57.8" width="1.9" height="444.40" fill="#000" fill-opacity="0.12"/><rect x="370.15" y="57.8" width="0.9" height="142.80" fill="#000" fill-opacity="0.6"/><rect x="370.15" y="200.6" width="0.9" height="301.60" fill="#000" fill-opacity="0.43"/><rect x="374.96" y="57.8" width="1.9" height="444.40" fill="#000" fill-opacity="0.12"/><rect x="375.46" y="57.8" width="0.9" height="142.80" fill="#000" fill-opacity="0.6"/><rect x="375.46" y="200.6" width="0.9" height="301.60" fill="#000" fill-opacity="0.43"/><rect x="380.27" y="57.8" width="1.9" height="444.40" fill="#000" fill-opacity="0.12"/><rect x="380.77" y="57.8" width="0.9" height="142.80" fill="#000" fill-opacity="0.6"/><rect x="380.77" y="200.6" width="0.9" height="301.60" fill="#000" fill-opacity="0.43"/><rect x="385.58" y="57.8" width="1.9" height="444.40" fill="#000" fill-opacity="0.12"/><rect x="386.08" y="57.8" width="0.9" height="142.80" fill="#000" fill-opacity="0.6"/><rect x="386.08" y="200.6" width="0.9" height="301.60" fill="#000" fill-opacity="0.43"/><rect x="390.89" y="57.8" width="1.9" height="444.40" fill="#000" fill-opacity="0.12"/><rect x="391.39" y="57.8" width="0.9" height="142.80" fill="#000" fill-opacity="0.6"/><rect x="391.39" y="200.6" width="0.9" height="301.60" fill="#000" fill-opacity="0.43"/><rect x="396.20" y="57.8" width="1.9" height="444.40" fill="#000" fill-opacity="0.12"/><rect x="396.70" y="57.8" width="0.9" height="142.80" fill="#000" fill-opacity="0.6"/><rect x="396.70" y="200.6" width="0.9" height="301.60" fill="#000" fill-opacity="0.43"/><rect x="401.51" y="57.8" width="1.9" height="444.40" fill="#000" fill-opacity="0.12"/><rect x="402.01" y="57.8" width="0.9" height="142.80" fill="#000" fill-opacity="0.6"/><rect x="402.01" y="200.6" width="0.9" height="301.60" fill="#000" fill-opacity="0.43"/><rect x="406.82" y="57.8" width="1.9" height="444.40" fill="#000" fill-opacity="0.12"/><rect x="407.32" y="57.8" width="0.9" height="142.80" fill="#000" fill-opacity="0.6"/><rect x="407.32" y="200.6" width="0.9" height="301.60" fill="#000" fill-opacity="0.43"/><rect x="412.13" y="57.8" width="1.9" height="444.40" fill="#000" fill-opacity="0.12"/><rect x="412.63" y="57.8" width="0.9" height="142.80" fill="#000" fill-opacity="0.6"/><rect x="412.63" y="200.6" width="0.9" height="301.60" fill="#000" fill-opacity="0.43"/><rect x="417.44" y="57.8" width="1.9" height="444.40" fill="#000" fill-opacity="0.12"/><rect x="417.94" y="57.8" width="0.9" height="142.80" fill="#000" fill-opacity="0.6"/><rect x="417.94" y="200.6" width="0.9" height="301.60" fill="#000" fill-opacity="0.43"/><rect x="422.76" y="57.8" width="1.9" height="444.40" fill="#000" fill-opacity="0.12"/><rect x="423.26" y="57.8" width="0.9" height="142.80" fill="#000" fill-opacity="0.6"/><rect x="423.26" y="200.6" width="0.9" height="301.60" fill="#000" fill-opacity="0.43"/><rect x="428.07" y="57.8" width="1.9" height="444.40" fill="#000" fill-opacity="0.12"/><rect x="428.57" y="57.8" width="0.9" height="142.80" fill="#000" fill-opacity="0.6"/><rect x="428.57" y="200.6" width="0.9" height="301.60" fill="#000" fill-opacity="0.43"/><rect x="433.38" y="57.8" width="1.9" height="444.40" fill="#000" fill-opacity="0.12"/><rect x="433.88" y="57.8" width="0.9" height="142.80" fill="#000" fill-opacity="0.6"/><rect x="433.88" y="200.6" width="0.9" height="301.60" fill="#000" fill-opacity="0.43"/><rect x="438.69" y="57.8" width="1.9" height="444.40" fill="#000" fill-opacity="0.12"/><rect x="439.19" y="57.8" width="0.9" height="142.80" fill="#000" fill-opacity="0.6"/><rect x="439.19" y="200.6" width="0.9" height="301.60" fill="#000" fill-opacity="0.43"/><rect x="444.00" y="57.8" width="1.9" height="444.40" fill="#000" fill-opacity="0.12"/><rect x="444.50" y="57.8" width="0.9" height="142.80" fill="#000" fill-opacity="0.6"/><rect x="444.50" y="200.6" width="0.9" height="301.60" fill="#000" fill-opacity="0.43"/><rect x="449.31" y="57.8" width="1.9" height="444.40" fill="#000" fill-opacity="0.12"/><rect x="449.81" y="57.8" width="0.9" height="142.80" fill="#000" fill-opacity="0.6"/><rect x="449.81" y="200.6" width="0.9" height="301.60" fill="#000" fill-opacity="0.43"/><rect x="454.62" y="57.8" width="1.9" height="444.40" fill="#000" fill-opacity="0.12"/><rect x="455.12" y="57.8" width="0.9" height="142.80" fill="#000" fill-opacity="0.6"/><rect x="455.12" y="200.6" width="0.9" height="301.60" fill="#000" fill-opacity="0.43"/><rect x="459.93" y="57.8" width="1.9" height="444.40" fill="#000" fill-opacity="0.12"/><rect x="460.43" y="57.8" width="0.9" height="142.80" fill="#000" fill-opacity="0.6"/><rect x="460.43" y="200.6" width="0.9" height="301.60" fill="#000" fill-opacity="0.43"/><rect x="465.24" y="57.8" width="1.9" height="444.40" fill="#000" fill-opacity="0.12"/><rect x="465.74" y="57.8" width="0.9" height="142.80" fill="#000" fill-opacity="0.6"/><rect x="465.74" y="200.6" width="0.9" height="301.60" fill="#000" fill-opacity="0.43"/><rect x="470.55" y="57.8" width="1.9" height="444.40" fill="#000" fill-opacity="0.12"/><rect x="471.05" y="57.8" width="0.9" height="142.80" fill="#000" fill-opacity="0.6"/><rect x="471.05" y="200.6" width="0.9" height="301.60" fill="#000" fill-opacity="0.43"/><rect x="475.86" y="57.8" width="1.9" height="444.40" fill="#000" fill-opacity="0.12"/><rect x="476.36" y="57.8" width="0.9" height="142.80" fill="#000" fill-opacity="0.6"/><rect x="476.36" y="200.6" width="0.9" height="301.60" fill="#000" fill-opacity="0.43"/><rect x="481.17" y="57.8" width="1.9" height="444.40" fill="#000" fill-opacity="0.12"/><rect x="481.67" y="57.8" width="0.9" height="142.80" fill="#000" fill-opacity="0.6"/><rect x="481.67" y="200.6" width="0.9" height="301.60" fill="#000" fill-opacity="0.43"/><rect x="486.48" y="57.8" width="1.9" height="444.40" fill="#000" fill-opacity="0.12"/><rect x="486.98" y="57.8" width="0.9" height="142.80" fill="#000" fill-opacity="0.6"/><rect x="486.98" y="200.6" width="0.9" height="301.60" fill="#000" fill-opacity="0.43"/><rect x="491.79" y="57.8" width="1.9" height="444.40" fill="#000" fill-opacity="0.12"/><rect x="492.29" y="57.8" width="0.9" height="142.80" fill="#000" fill-opacity="0.6"/><rect x="492.29" y="200.6" width="0.9" height="301.60" fill="#000" fill-opacity="0.43"/><rect x="497.10" y="57.8" width="1.9" height="444.40" fill="#000" fill-opacity="0.12"/><rect x="497.60" y="57.8" width="0.9" height="142.80" fill="#000" fill-opacity="0.6"/><rect x="497.60" y="200.6" width="0.9" height="301.60" fill="#000" fill-opacity="0.43"/><rect x="502.41" y="57.8" width="1.9" height="444.40" fill="#000" fill-opacity="0.12"/><rect x="502.91" y="57.8" width="0.9" height="142.80" fill="#000" fill-opacity="0.6"/><rect x="502.91" y="200.6" width="0.9" height="301.60" fill="#000" fill-opacity="0.43"/><rect x="507.72" y="57.8" width="1.9" height="444.40" fill="#000" fill-opacity="0.12"/><rect x="508.22" y="57.8" width="0.9" height="142.80" fill="#000" fill-opacity="0.6"/><rect x="508.22" y="200.6" width="0.9" height="301.60" fill="#000" fill-opacity="0.43"/><rect x="513.03" y="57.8" width="1.9" height="444.40" fill="#000" fill-opacity="0.12"/><rect x="513.53" y="57.8" width="0.9" height="142.80" fill="#000" fill-opacity="0.6"/><rect x="513.53" y="200.6" width="0.9" height="301.60" fill="#000" fill-opacity="0.43"/><rect x="518.34" y="57.8" width="1.9" height="444.40" fill="#000" fill-opacity="0.12"/><rect x="518.84" y="57.8" width="0.9" height="142.80" fill="#000" fill-opacity="0.6"/><rect x="518.84" y="200.6" width="0.9" height="301.60" fill="#000" fill-opacity="0.43"/><rect x="523.65" y="57.8" width="1.9" height="444.40" fill="#000" fill-opacity="0.12"/><rect x="524.15" y="57.8" width="0.9" height="142.80" fill="#000" fill-opacity="0.6"/><rect x="524.15" y="200.6" width="0.9" height="301.60" fill="#000" fill-opacity="0.43"/><rect x="528.96" y="57.8" width="1.9" height="444.40" fill="#000" fill-opacity="0.12"/><rect x="529.46" y="57.8" width="0.9" height="142.80" fill="#000" fill-opacity="0.6"/><rect x="529.46" y="200.6" width="0.9" height="301.60" fill="#000" fill-opacity="0.43"/><rect x="534.28" y="57.8" width="1.9" height="444.40" fill="#000" fill-opacity="0.12"/><rect x="534.78" y="57.8" width="0.9" height="142.80" fill="#000" fill-opacity="0.6"/><rect x="534.78" y="200.6" width="0.9" height="301.60" fill="#000" fill-opacity="0.43"/><rect x="539.59" y="57.8" width="1.9" height="444.40" fill="#000" fill-opacity="0.12"/><rect x="540.09" y="57.8" width="0.9" height="142.80" fill="#000" fill-opacity="0.6"/><rect x="540.09" y="200.6" width="0.9" height="301.60" fill="#000" fill-opacity="0.43"/><rect x="544.90" y="57.8" width="1.9" height="444.40" fill="#000" fill-opacity="0.12"/><rect x="545.40" y="57.8" width="0.9" height="142.80" fill="#000" fill-opacity="0.6"/><rect x="545.40" y="200.6" width="0.9" height="301.60" fill="#000" fill-opacity="0.43"/><rect x="550.21" y="57.8" width="1.9" height="444.40" fill="#000" fill-opacity="0.12"/><rect x="550.71" y="57.8" width="0.9" height="142.80" fill="#000" fill-opacity="0.6"/><rect x="550.71" y="200.6" width="0.9" height="301.60" fill="#000" fill-opacity="0.43"/><rect x="555.52" y="57.8" width="1.9" height="444.40" fill="#000" fill-opacity="0.12"/><rect x="556.02" y="57.8" width="0.9" height="142.80" fill="#000" fill-opacity="0.6"/><rect x="556.02" y="200.6" width="0.9" height="301.60" fill="#000" fill-opacity="0.43"/><rect x="560.83" y="57.8" width="1.9" height="444.40" fill="#000" fill-opacity="0.12"/><rect x="561.33" y="57.8" width="0.9" height="142.80" fill="#000" fill-opacity="0.6"/><rect x="561.33" y="200.6" width="0.9" height="301.60" fill="#000" fill-opacity="0.43"/><rect x="566.14" y="57.8" width="1.9" height="444.40" fill="#000" fill-opacity="0.12"/><rect x="566.64" y="57.8" width="0.9" height="142.80" fill="#000" fill-opacity="0.6"/><rect x="566.64" y="200.6" width="0.9" height="301.60" fill="#000" fill-opacity="0.43"/><rect x="571.45" y="57.8" width="1.9" height="444.40" fill="#000" fill-opacity="0.12"/><rect x="571.95" y="57.8" width="0.9" height="444.40" fill="#000" fill-opacity="0.42"/><rect x="365.40000000000003" y="90.80" width="207.40" height="1.0" fill="#08080c" fill-opacity="0.9"/><rect x="365.40000000000003" y="124.70" width="207.40" height="1.0" fill="#08080c" fill-opacity="0.9"/><rect x="365.40000000000003" y="162.50" width="207.40" height="1.0" fill="#08080c" fill-opacity="0.9"/><rect x="365.40000000000003" y="200.10" width="207.40" height="1.0" fill="#08080c" fill-opacity="0.9"/><rect x="365.40000000000003" y="237.80" width="207.40" height="1.0" fill="#08080c" fill-opacity="0.9"/><rect x="365.40000000000003" y="275.50" width="207.40" height="1.0" fill="#08080c" fill-opacity="0.9"/><rect x="365.40000000000003" y="313.30" width="207.40" height="1.0" fill="#08080c" fill-opacity="0.9"/><rect x="365.40000000000003" y="351.10" width="207.40" height="1.0" fill="#08080c" fill-opacity="0.9"/><rect x="365.40000000000003" y="388.90" width="207.40" height="1.0" fill="#08080c" fill-opacity="0.9"/><rect x="365.40000000000003" y="426.80" width="207.40" height="1.0" fill="#08080c" fill-opacity="0.9"/><rect x="365.40000000000003" y="464.50" width="207.40" height="1.0" fill="#08080c" fill-opacity="0.9"/><rect x="364.9" y="57.9" width="1.6" height="6.9" fill="#14288c"/><rect x="369.3" y="57.9" width="1.4" height="6.9" fill="#5c88d4"/><rect x="364.9" y="62.9" width="5.6" height="1.9" fill="#081480"/><rect x="366.5" y="57.5" width="2.8" height="1.2" fill="#eef0f4"/></svg>
<div style="position:absolute;left:576.20px;top:82.20px;width:15.60px;height:18.60px;background:#efeff4;"></div>
<div style="position:absolute;top:86.55px;font-size:10.2px;line-height:12.24px;color:#10101c;white-space:nowrap;font-weight:bold;left:578.20px;transform:scaleX(0.88);transform-origin:left center;">55</div>
<div style="position:absolute;left:576.20px;top:153.70px;width:15.60px;height:18.60px;background:#efeff4;"></div>
<div style="position:absolute;top:158.05px;font-size:10.2px;line-height:12.24px;color:#10101c;white-space:nowrap;font-weight:bold;left:578.20px;transform:scaleX(0.88);transform-origin:left center;">45</div>
<div style="position:absolute;left:576.20px;top:229.10px;width:15.60px;height:18.60px;background:#efeff4;"></div>
<div style="position:absolute;top:233.45px;font-size:10.2px;line-height:12.24px;color:#10101c;white-space:nowrap;font-weight:bold;left:578.20px;transform:scaleX(0.88);transform-origin:left center;">35</div>
<div style="position:absolute;left:576.20px;top:304.60px;width:15.60px;height:18.60px;background:#efeff4;"></div>
<div style="position:absolute;top:308.95px;font-size:10.2px;line-height:12.24px;color:#10101c;white-space:nowrap;font-weight:bold;left:578.20px;transform:scaleX(0.88);transform-origin:left center;">25</div>
<div style="position:absolute;left:576.20px;top:380.20px;width:15.60px;height:18.60px;background:#efeff4;"></div>
<div style="position:absolute;top:384.55px;font-size:10.2px;line-height:12.24px;color:#10101c;white-space:nowrap;font-weight:bold;left:578.20px;transform:scaleX(0.88);transform-origin:left center;">15</div>
<div style="position:absolute;left:576.20px;top:455.70px;width:15.60px;height:18.60px;background:#efeff4;"></div>
<div style="position:absolute;top:460.05px;font-size:10.2px;line-height:12.24px;color:#10101c;white-space:nowrap;font-weight:bold;left:578.20px;transform:scaleX(0.88);transform-origin:left center;">5</div>
<div style="position:absolute;left:4.30px;top:518.40px;width:589.30px;height:45.80px;background:#fff;border:1px solid #8a8a8a;border-right:1.3px solid #6c6c6c;border-bottom:1.3px solid #6c6c6c;border-radius:1.5px;"></div>
<div style="position:absolute;left:5.20px;top:519.20px;width:587.20px;height:13.30px;background:#f5f5f5;"></div>
<div style="position:absolute;left:5.20px;top:532.00px;width:587.20px;height:1.00px;background:#dadada;"></div>
<div style="position:absolute;left:5.20px;top:547.50px;width:587.20px;height:1.00px;background:#dadada;"></div>
<div style="position:absolute;left:79.00px;top:519.20px;width:1.00px;height:44.00px;background:#dedede;"></div>
<div style="position:absolute;left:169.50px;top:519.20px;width:1.00px;height:44.00px;background:#dedede;"></div>
<div style="position:absolute;left:254.20px;top:519.20px;width:1.00px;height:44.00px;background:#dedede;"></div>
<div style="position:absolute;left:335.00px;top:519.20px;width:1.00px;height:44.00px;background:#dedede;"></div>
<div style="position:absolute;left:420.90px;top:519.20px;width:1.00px;height:44.00px;background:#dedede;"></div>
<div style="position:absolute;left:502.90px;top:519.20px;width:1.00px;height:44.00px;background:#dedede;"></div>
<div style="position:absolute;top:522.53px;font-size:8.1px;line-height:9.72px;color:#000;white-space:nowrap;left:-7.85px;width:100px;text-align:center;-webkit-text-stroke:0.1px #000;">Item</div>
<div style="position:absolute;top:522.53px;font-size:8.1px;line-height:9.72px;color:#000;white-space:nowrap;left:74.75px;width:100px;text-align:center;-webkit-text-stroke:0.1px #000;">3L-7L:18L-18R</div>
<div style="position:absolute;top:522.53px;font-size:8.1px;line-height:9.72px;color:#000;white-space:nowrap;left:162.35px;width:100px;text-align:center;-webkit-text-stroke:0.1px #000;">8L-12L:18L-18R</div>
<div style="position:absolute;top:522.53px;font-size:8.1px;line-height:9.72px;color:#000;white-space:nowrap;left:245.10px;width:100px;text-align:center;-webkit-text-stroke:0.1px #000;">13L-17L:18L-18R</div>
<div style="position:absolute;top:522.53px;font-size:8.1px;line-height:9.72px;color:#000;white-space:nowrap;left:328.45px;width:100px;text-align:center;-webkit-text-stroke:0.1px #000;">18L-18R:17R-13R</div>
<div style="position:absolute;top:522.53px;font-size:8.1px;line-height:9.72px;color:#000;white-space:nowrap;left:412.40px;width:100px;text-align:center;-webkit-text-stroke:0.1px #000;">18L-18R:12R-8R</div>
<div style="position:absolute;top:522.53px;font-size:8.1px;line-height:9.72px;color:#000;white-space:nowrap;left:498.00px;width:100px;text-align:center;-webkit-text-stroke:0.1px #000;">18L-18R:7R-3R</div>
<div style="position:absolute;top:534.98px;font-size:8.05px;line-height:9.66px;color:#111;white-space:nowrap;left:7.00px;-webkit-text-stroke:0.1px #000;">Description</div>
<div style="position:absolute;top:535.03px;font-size:8.0px;line-height:9.6px;color:#111;white-space:nowrap;left:75.75px;width:100px;text-align:center;letter-spacing:0.2px;">Outside Track:Middle</div>
<div style="position:absolute;top:535.03px;font-size:8.0px;line-height:9.6px;color:#111;white-space:nowrap;left:163.35px;width:100px;text-align:center;letter-spacing:0.2px;">Middle Track:Middle</div>
<div style="position:absolute;top:535.03px;font-size:8.0px;line-height:9.6px;color:#111;white-space:nowrap;left:246.10px;width:100px;text-align:center;letter-spacing:0.2px;">Inside Track:Middle</div>
<div style="position:absolute;top:535.03px;font-size:8.0px;line-height:9.6px;color:#111;white-space:nowrap;left:329.45px;width:100px;text-align:center;letter-spacing:0.2px;">MIddle: Inside Track</div>
<div style="position:absolute;top:535.03px;font-size:8.0px;line-height:9.6px;color:#111;white-space:nowrap;left:413.40px;width:100px;text-align:center;letter-spacing:0.2px;">Middle:Middle Track</div>
<div style="position:absolute;top:535.03px;font-size:8.0px;line-height:9.6px;color:#111;white-space:nowrap;left:499.00px;width:100px;text-align:center;letter-spacing:0.2px;">Middle:Outside Track</div>
<div style="position:absolute;top:550.18px;font-size:8.05px;line-height:9.66px;color:#111;white-space:nowrap;left:7.00px;-webkit-text-stroke:0.1px #000;">Track Zone Ratio</div>
<div style="position:absolute;top:549.94px;font-size:8.3px;line-height:9.96px;color:#111;white-space:nowrap;left:74.75px;width:100px;text-align:center;transform:scaleX(0.9);transform-origin:center center;-webkit-text-stroke:0.1px #000;">3.13</div>
<div style="position:absolute;top:549.94px;font-size:8.3px;line-height:9.96px;color:#111;white-space:nowrap;left:162.35px;width:100px;text-align:center;transform:scaleX(0.9);transform-origin:center center;-webkit-text-stroke:0.1px #000;">1.39</div>
<div style="position:absolute;top:549.94px;font-size:8.3px;line-height:9.96px;color:#111;white-space:nowrap;left:245.10px;width:100px;text-align:center;transform:scaleX(0.9);transform-origin:center center;-webkit-text-stroke:0.1px #000;">1</div>
<div style="position:absolute;top:549.94px;font-size:8.3px;line-height:9.96px;color:#111;white-space:nowrap;left:328.45px;width:100px;text-align:center;transform:scaleX(0.9);transform-origin:center center;-webkit-text-stroke:0.1px #000;">1</div>
<div style="position:absolute;top:549.94px;font-size:8.3px;line-height:9.96px;color:#111;white-space:nowrap;left:412.40px;width:100px;text-align:center;transform:scaleX(0.9);transform-origin:center center;-webkit-text-stroke:0.1px #000;">1.39</div>
<div style="position:absolute;top:549.94px;font-size:8.3px;line-height:9.96px;color:#111;white-space:nowrap;left:498.00px;width:100px;text-align:center;transform:scaleX(0.9);transform-origin:center center;-webkit-text-stroke:0.1px #000;">3.13</div>
<div style="position:absolute;left:4.30px;top:567.00px;width:590.50px;height:123.30px;background:#f9f9f9;border:1px solid #d0d0d0;border-radius:2px;"></div>
<div style="position:absolute;left:6.00px;top:578.60px;width:568.80px;height:110.60px;background:#fff;"></div>
<div style="position:absolute;top:570.02px;font-size:8.85px;line-height:10.62px;color:#f01010;white-space:nowrap;font-weight:bold;left:35.00px;">Forward Oil</div>
<div style="position:absolute;top:570.02px;font-size:8.85px;line-height:10.62px;color:#138a13;white-space:nowrap;font-weight:bold;left:105.00px;">Reverse Oil</div>
<svg width="600" height="692"><rect x="47.60" y="586.2" width="0.8" height="97.55" fill="#858585"/><rect x="60.68" y="586.2" width="0.8" height="97.55" fill="#858585"/><rect x="73.76" y="586.2" width="0.8" height="97.55" fill="#858585"/><rect x="86.84" y="586.2" width="0.8" height="97.55" fill="#858585"/><rect x="99.92" y="586.2" width="0.8" height="97.55" fill="#858585"/><rect x="113.00" y="586.2" width="0.8" height="97.55" fill="#858585"/><rect x="126.07" y="586.2" width="0.8" height="97.55" fill="#858585"/><rect x="139.15" y="586.2" width="0.8" height="97.55" fill="#858585"/><rect x="152.23" y="586.2" width="0.8" height="97.55" fill="#858585"/><rect x="165.31" y="586.2" width="0.8" height="97.55" fill="#858585"/><rect x="178.39" y="586.2" width="0.8" height="97.55" fill="#858585"/><rect x="191.47" y="586.2" width="0.8" height="97.55" fill="#858585"/><rect x="204.55" y="586.2" width="0.8" height="97.55" fill="#858585"/><rect x="217.63" y="586.2" width="0.8" height="97.55" fill="#858585"/><rect x="230.71" y="586.2" width="0.8" height="97.55" fill="#858585"/><rect x="243.78" y="586.2" width="0.8" height="97.55" fill="#858585"/><rect x="256.86" y="586.2" width="0.8" height="97.55" fill="#858585"/><rect x="269.94" y="586.2" width="0.8" height="97.55" fill="#858585"/><rect x="283.02" y="586.2" width="0.8" height="97.55" fill="#858585"/><rect x="296.10" y="586.2" width="0.8" height="97.55" fill="#858585"/><rect x="309.18" y="586.2" width="0.8" height="97.55" fill="#858585"/><rect x="322.26" y="586.2" width="0.8" height="97.55" fill="#858585"/><rect x="335.34" y="586.2" width="0.8" height="97.55" fill="#858585"/><rect x="348.42" y="586.2" width="0.8" height="97.55" fill="#858585"/><rect x="361.50" y="586.2" width="0.8" height="97.55" fill="#858585"/><rect x="374.58" y="586.2" width="0.8" height="97.55" fill="#858585"/><rect x="387.65" y="586.2" width="0.8" height="97.55" fill="#858585"/><rect x="400.73" y="586.2" width="0.8" height="97.55" fill="#858585"/><rect x="413.81" y="586.2" width="0.8" height="97.55" fill="#858585"/><rect x="426.89" y="586.2" width="0.8" height="97.55" fill="#858585"/><rect x="439.97" y="586.2" width="0.8" height="97.55" fill="#858585"/><rect x="453.05" y="586.2" width="0.8" height="97.55" fill="#858585"/><rect x="466.13" y="586.2" width="0.8" height="97.55" fill="#858585"/><rect x="479.21" y="586.2" width="0.8" height="97.55" fill="#858585"/><rect x="492.29" y="586.2" width="0.8" height="97.55" fill="#858585"/><rect x="505.37" y="586.2" width="0.8" height="97.55" fill="#858585"/><rect x="518.44" y="586.2" width="0.8" height="97.55" fill="#858585"/><rect x="531.52" y="586.2" width="0.8" height="97.55" fill="#858585"/><rect x="544.60" y="586.2" width="0.8" height="97.55" fill="#858585"/><rect x="557.68" y="586.2" width="0.8" height="97.55" fill="#858585"/><line x1="34.5" y1="674.00" x2="565.0" y2="674.00" stroke="#8f6060" stroke-width="0.8" stroke-dasharray="1.2 1.0"/><rect x="30.5" y="673.60" width="4" height="0.8" fill="#222"/><line x1="34.5" y1="664.25" x2="565.0" y2="664.25" stroke="#8f6060" stroke-width="0.8" stroke-dasharray="1.2 1.0"/><rect x="30.5" y="663.85" width="4" height="0.8" fill="#222"/><line x1="34.5" y1="654.50" x2="565.0" y2="654.50" stroke="#8f6060" stroke-width="0.8" stroke-dasharray="1.2 1.0"/><rect x="30.5" y="654.10" width="4" height="0.8" fill="#222"/><line x1="34.5" y1="644.75" x2="565.0" y2="644.75" stroke="#8f6060" stroke-width="0.8" stroke-dasharray="1.2 1.0"/><rect x="30.5" y="644.35" width="4" height="0.8" fill="#222"/><line x1="34.5" y1="635.00" x2="565.0" y2="635.00" stroke="#8f6060" stroke-width="0.8" stroke-dasharray="1.2 1.0"/><rect x="30.5" y="634.60" width="4" height="0.8" fill="#222"/><line x1="34.5" y1="625.25" x2="565.0" y2="625.25" stroke="#8f6060" stroke-width="0.8" stroke-dasharray="1.2 1.0"/><rect x="30.5" y="624.85" width="4" height="0.8" fill="#222"/><line x1="34.5" y1="615.50" x2="565.0" y2="615.50" stroke="#8f6060" stroke-width="0.8" stroke-dasharray="1.2 1.0"/><rect x="30.5" y="615.10" width="4" height="0.8" fill="#222"/><line x1="34.5" y1="605.75" x2="565.0" y2="605.75" stroke="#8f6060" stroke-width="0.8" stroke-dasharray="1.2 1.0"/><rect x="30.5" y="605.35" width="4" height="0.8" fill="#222"/><line x1="34.5" y1="596.00" x2="565.0" y2="596.00" stroke="#8f6060" stroke-width="0.8" stroke-dasharray="1.2 1.0"/><rect x="30.5" y="595.60" width="4" height="0.8" fill="#222"/><line x1="34.5" y1="586.25" x2="565.0" y2="586.25" stroke="#8f6060" stroke-width="0.8" stroke-dasharray="1.2 1.0"/><rect x="30.5" y="585.85" width="4" height="0.8" fill="#222"/><rect x="33.9" y="586.2" width="1.2" height="98.15" fill="#111"/><rect x="564.5" y="586.2" width="1" height="98.15" fill="#444"/><rect x="34.5" y="585.8" width="530.5" height="0.8" fill="#777"/><rect x="33.9" y="683.15" width="531.7" height="1.3" fill="#111"/><rect x="57.78" y="671.25" width="6.6" height="2.75" fill="#06f606" stroke="#0c5c0c" stroke-width="0.7"/><rect x="57.78" y="674.00" width="6.6" height="9.35" fill="#fb0404" stroke="#6a0808" stroke-width="0.7"/><rect x="70.86" y="671.25" width="6.6" height="2.75" fill="#06f606" stroke="#0c5c0c" stroke-width="0.7"/><rect x="70.86" y="674.00" width="6.6" height="9.35" fill="#fb0404" stroke="#6a0808" stroke-width="0.7"/><rect x="83.94" y="664.75" width="6.6" height="6.00" fill="#06f606" stroke="#0c5c0c" stroke-width="0.7"/><rect x="83.94" y="670.75" width="6.6" height="12.60" fill="#fb0404" stroke="#6a0808" stroke-width="0.7"/><rect x="97.02" y="664.75" width="6.6" height="6.00" fill="#06f606" stroke="#0c5c0c" stroke-width="0.7"/><rect x="97.02" y="670.75" width="6.6" height="12.60" fill="#fb0404" stroke="#6a0808" stroke-width="0.7"/><rect x="110.10" y="658.25" width="6.6" height="9.25" fill="#06f606" stroke="#0c5c0c" stroke-width="0.7"/><rect x="110.10" y="667.50" width="6.6" height="15.85" fill="#fb0404" stroke="#6a0808" stroke-width="0.7"/><rect x="123.17" y="658.25" width="6.6" height="9.25" fill="#06f606" stroke="#0c5c0c" stroke-width="0.7"/><rect x="123.17" y="667.50" width="6.6" height="15.85" fill="#fb0404" stroke="#6a0808" stroke-width="0.7"/><rect x="136.25" y="648.50" width="6.6" height="12.50" fill="#06f606" stroke="#0c5c0c" stroke-width="0.7"/><rect x="136.25" y="661.00" width="6.6" height="22.35" fill="#fb0404" stroke="#6a0808" stroke-width="0.7"/><rect x="149.33" y="648.50" width="6.6" height="12.50" fill="#06f606" stroke="#0c5c0c" stroke-width="0.7"/><rect x="149.33" y="661.00" width="6.6" height="22.35" fill="#fb0404" stroke="#6a0808" stroke-width="0.7"/><rect x="162.41" y="635.50" width="6.6" height="19.00" fill="#06f606" stroke="#0c5c0c" stroke-width="0.7"/><rect x="162.41" y="654.50" width="6.6" height="28.85" fill="#fb0404" stroke="#6a0808" stroke-width="0.7"/><rect x="175.49" y="635.50" width="6.6" height="19.00" fill="#06f606" stroke="#0c5c0c" stroke-width="0.7"/><rect x="175.49" y="654.50" width="6.6" height="28.85" fill="#fb0404" stroke="#6a0808" stroke-width="0.7"/><rect x="188.57" y="619.25" width="6.6" height="25.50" fill="#06f606" stroke="#0c5c0c" stroke-width="0.7"/><rect x="188.57" y="644.75" width="6.6" height="38.60" fill="#fb0404" stroke="#6a0808" stroke-width="0.7"/><rect x="201.65" y="619.25" width="6.6" height="25.50" fill="#06f606" stroke="#0c5c0c" stroke-width="0.7"/><rect x="201.65" y="644.75" width="6.6" height="38.60" fill="#fb0404" stroke="#6a0808" stroke-width="0.7"/><rect x="214.73" y="619.25" width="6.6" height="25.50" fill="#06f606" stroke="#0c5c0c" stroke-width="0.7"/><rect x="214.73" y="644.75" width="6.6" height="38.60" fill="#fb0404" stroke="#6a0808" stroke-width="0.7"/><rect x="227.81" y="619.25" width="6.6" height="25.50" fill="#06f606" stroke="#0c5c0c" stroke-width="0.7"/><rect x="227.81" y="644.75" width="6.6" height="38.60" fill="#fb0404" stroke="#6a0808" stroke-width="0.7"/><rect x="240.88" y="619.25" width="6.6" height="25.50" fill="#06f606" stroke="#0c5c0c" stroke-width="0.7"/><rect x="240.88" y="644.75" width="6.6" height="38.60" fill="#fb0404" stroke="#6a0808" stroke-width="0.7"/><rect x="253.96" y="619.25" width="6.6" height="25.50" fill="#06f606" stroke="#0c5c0c" stroke-width="0.7"/><rect x="253.96" y="644.75" width="6.6" height="38.60" fill="#fb0404" stroke="#6a0808" stroke-width="0.7"/><rect x="267.04" y="619.25" width="6.6" height="25.50" fill="#06f606" stroke="#0c5c0c" stroke-width="0.7"/><rect x="267.04" y="644.75" width="6.6" height="38.60" fill="#fb0404" stroke="#6a0808" stroke-width="0.7"/><rect x="280.12" y="619.25" width="6.6" height="25.50" fill="#06f606" stroke="#0c5c0c" stroke-width="0.7"/><rect x="280.12" y="644.75" width="6.6" height="38.60" fill="#fb0404" stroke="#6a0808" stroke-width="0.7"/><rect x="293.20" y="619.25" width="6.6" height="25.50" fill="#06f606" stroke="#0c5c0c" stroke-width="0.7"/><rect x="293.20" y="644.75" width="6.6" height="38.60" fill="#fb0404" stroke="#6a0808" stroke-width="0.7"/><rect x="306.28" y="619.25" width="6.6" height="25.50" fill="#06f606" stroke="#0c5c0c" stroke-width="0.7"/><rect x="306.28" y="644.75" width="6.6" height="38.60" fill="#fb0404" stroke="#6a0808" stroke-width="0.7"/><rect x="319.36" y="619.25" width="6.6" height="25.50" fill="#06f606" stroke="#0c5c0c" stroke-width="0.7"/><rect x="319.36" y="644.75" width="6.6" height="38.60" fill="#fb0404" stroke="#6a0808" stroke-width="0.7"/><rect x="332.44" y="619.25" width="6.6" height="25.50" fill="#06f606" stroke="#0c5c0c" stroke-width="0.7"/><rect x="332.44" y="644.75" width="6.6" height="38.60" fill="#fb0404" stroke="#6a0808" stroke-width="0.7"/><rect x="345.52" y="619.25" width="6.6" height="25.50" fill="#06f606" stroke="#0c5c0c" stroke-width="0.7"/><rect x="345.52" y="644.75" width="6.6" height="38.60" fill="#fb0404" stroke="#6a0808" stroke-width="0.7"/><rect x="358.60" y="619.25" width="6.6" height="25.50" fill="#06f606" stroke="#0c5c0c" stroke-width="0.7"/><rect x="358.60" y="644.75" width="6.6" height="38.60" fill="#fb0404" stroke="#6a0808" stroke-width="0.7"/><rect x="371.68" y="619.25" width="6.6" height="25.50" fill="#06f606" stroke="#0c5c0c" stroke-width="0.7"/><rect x="371.68" y="644.75" width="6.6" height="38.60" fill="#fb0404" stroke="#6a0808" stroke-width="0.7"/><rect x="384.75" y="619.25" width="6.6" height="25.50" fill="#06f606" stroke="#0c5c0c" stroke-width="0.7"/><rect x="384.75" y="644.75" width="6.6" height="38.60" fill="#fb0404" stroke="#6a0808" stroke-width="0.7"/><rect x="397.83" y="619.25" width="6.6" height="25.50" fill="#06f606" stroke="#0c5c0c" stroke-width="0.7"/><rect x="397.83" y="644.75" width="6.6" height="38.60" fill="#fb0404" stroke="#6a0808" stroke-width="0.7"/><rect x="410.91" y="635.50" width="6.6" height="19.00" fill="#06f606" stroke="#0c5c0c" stroke-width="0.7"/><rect x="410.91" y="654.50" width="6.6" height="28.85" fill="#fb0404" stroke="#6a0808" stroke-width="0.7"/><rect x="423.99" y="635.50" width="6.6" height="19.00" fill="#06f606" stroke="#0c5c0c" stroke-width="0.7"/><rect x="423.99" y="654.50" width="6.6" height="28.85" fill="#fb0404" stroke="#6a0808" stroke-width="0.7"/><rect x="437.07" y="648.50" width="6.6" height="12.50" fill="#06f606" stroke="#0c5c0c" stroke-width="0.7"/><rect x="437.07" y="661.00" width="6.6" height="22.35" fill="#fb0404" stroke="#6a0808" stroke-width="0.7"/><rect x="450.15" y="648.50" width="6.6" height="12.50" fill="#06f606" stroke="#0c5c0c" stroke-width="0.7"/><rect x="450.15" y="661.00" width="6.6" height="22.35" fill="#fb0404" stroke="#6a0808" stroke-width="0.7"/><rect x="463.23" y="658.25" width="6.6" height="9.25" fill="#06f606" stroke="#0c5c0c" stroke-width="0.7"/><rect x="463.23" y="667.50" width="6.6" height="15.85" fill="#fb0404" stroke="#6a0808" stroke-width="0.7"/><rect x="476.31" y="658.25" width="6.6" height="9.25" fill="#06f606" stroke="#0c5c0c" stroke-width="0.7"/><rect x="476.31" y="667.50" width="6.6" height="15.85" fill="#fb0404" stroke="#6a0808" stroke-width="0.7"/><rect x="489.39" y="664.75" width="6.6" height="6.00" fill="#06f606" stroke="#0c5c0c" stroke-width="0.7"/><rect x="489.39" y="670.75" width="6.6" height="12.60" fill="#fb0404" stroke="#6a0808" stroke-width="0.7"/><rect x="502.47" y="664.75" width="6.6" height="6.00" fill="#06f606" stroke="#0c5c0c" stroke-width="0.7"/><rect x="502.47" y="670.75" width="6.6" height="12.60" fill="#fb0404" stroke="#6a0808" stroke-width="0.7"/><rect x="515.54" y="671.25" width="6.6" height="2.75" fill="#06f606" stroke="#0c5c0c" stroke-width="0.7"/><rect x="515.54" y="674.00" width="6.6" height="9.35" fill="#fb0404" stroke="#6a0808" stroke-width="0.7"/><rect x="528.62" y="671.25" width="6.6" height="2.75" fill="#06f606" stroke="#0c5c0c" stroke-width="0.7"/><rect x="528.62" y="674.00" width="6.6" height="9.35" fill="#fb0404" stroke="#6a0808" stroke-width="0.7"/><rect x="47.60" y="683.75" width="0.8" height="1.6" fill="#111"/><rect x="60.68" y="683.75" width="0.8" height="1.6" fill="#111"/><rect x="73.76" y="683.75" width="0.8" height="1.6" fill="#111"/><rect x="86.84" y="683.75" width="0.8" height="1.6" fill="#111"/><rect x="99.92" y="683.75" width="0.8" height="1.6" fill="#111"/><rect x="113.00" y="683.75" width="0.8" height="1.6" fill="#111"/><rect x="126.07" y="683.75" width="0.8" height="1.6" fill="#111"/><rect x="139.15" y="683.75" width="0.8" height="1.6" fill="#111"/><rect x="152.23" y="683.75" width="0.8" height="1.6" fill="#111"/><rect x="165.31" y="683.75" width="0.8" height="1.6" fill="#111"/><rect x="178.39" y="683.75" width="0.8" height="1.6" fill="#111"/><rect x="191.47" y="683.75" width="0.8" height="1.6" fill="#111"/><rect x="204.55" y="683.75" width="0.8" height="1.6" fill="#111"/><rect x="217.63" y="683.75" width="0.8" height="1.6" fill="#111"/><rect x="230.71" y="683.75" width="0.8" height="1.6" fill="#111"/><rect x="243.78" y="683.75" width="0.8" height="1.6" fill="#111"/><rect x="256.86" y="683.75" width="0.8" height="1.6" fill="#111"/><rect x="269.94" y="683.75" width="0.8" height="1.6" fill="#111"/><rect x="283.02" y="683.75" width="0.8" height="1.6" fill="#111"/><rect x="296.10" y="683.75" width="0.8" height="1.6" fill="#111"/><rect x="309.18" y="683.75" width="0.8" height="1.6" fill="#111"/><rect x="322.26" y="683.75" width="0.8" height="1.6" fill="#111"/><rect x="335.34" y="683.75" width="0.8" height="1.6" fill="#111"/><rect x="348.42" y="683.75" width="0.8" height="1.6" fill="#111"/><rect x="361.50" y="683.75" width="0.8" height="1.6" fill="#111"/><rect x="374.58" y="683.75" width="0.8" height="1.6" fill="#111"/><rect x="387.65" y="683.75" width="0.8" height="1.6" fill="#111"/><rect x="400.73" y="683.75" width="0.8" height="1.6" fill="#111"/><rect x="413.81" y="683.75" width="0.8" height="1.6" fill="#111"/><rect x="426.89" y="683.75" width="0.8" height="1.6" fill="#111"/><rect x="439.97" y="683.75" width="0.8" height="1.6" fill="#111"/><rect x="453.05" y="683.75" width="0.8" height="1.6" fill="#111"/><rect x="466.13" y="683.75" width="0.8" height="1.6" fill="#111"/><rect x="479.21" y="683.75" width="0.8" height="1.6" fill="#111"/><rect x="492.29" y="683.75" width="0.8" height="1.6" fill="#111"/><rect x="505.37" y="683.75" width="0.8" height="1.6" fill="#111"/><rect x="518.44" y="683.75" width="0.8" height="1.6" fill="#111"/><rect x="531.52" y="683.75" width="0.8" height="1.6" fill="#111"/><rect x="544.60" y="683.75" width="0.8" height="1.6" fill="#111"/></svg>
<div style="position:absolute;top:686.19px;font-size:3.6px;line-height:4.32px;color:#333;white-space:nowrap;font-weight:bold;left:40.20px;width:16px;text-align:center;transform:scaleX(1.2);transform-origin:center center;letter-spacing:0.5px;">1</div>
<div style="position:absolute;top:686.19px;font-size:3.6px;line-height:4.32px;color:#333;white-space:nowrap;font-weight:bold;left:53.28px;width:16px;text-align:center;transform:scaleX(1.2);transform-origin:center center;letter-spacing:0.5px;">2</div>
<div style="position:absolute;top:686.19px;font-size:3.6px;line-height:4.32px;color:#333;white-space:nowrap;font-weight:bold;left:66.36px;width:16px;text-align:center;transform:scaleX(1.2);transform-origin:center center;letter-spacing:0.5px;">3</div>
<div style="position:absolute;top:686.19px;font-size:3.6px;line-height:4.32px;color:#333;white-space:nowrap;font-weight:bold;left:79.44px;width:16px;text-align:center;transform:scaleX(1.2);transform-origin:center center;letter-spacing:0.5px;">4</div>
<div style="position:absolute;top:686.19px;font-size:3.6px;line-height:4.32px;color:#333;white-space:nowrap;font-weight:bold;left:92.52px;width:16px;text-align:center;transform:scaleX(1.2);transform-origin:center center;letter-spacing:0.5px;">5</div>
<div style="position:absolute;top:686.19px;font-size:3.6px;line-height:4.32px;color:#333;white-space:nowrap;font-weight:bold;left:105.60px;width:16px;text-align:center;transform:scaleX(1.2);transform-origin:center center;letter-spacing:0.5px;">6</div>
<div style="position:absolute;top:686.19px;font-size:3.6px;line-height:4.32px;color:#333;white-space:nowrap;font-weight:bold;left:118.67px;width:16px;text-align:center;transform:scaleX(1.2);transform-origin:center center;letter-spacing:0.5px;">7</div>
<div style="position:absolute;top:686.19px;font-size:3.6px;line-height:4.32px;color:#333;white-space:nowrap;font-weight:bold;left:131.75px;width:16px;text-align:center;transform:scaleX(1.2);transform-origin:center center;letter-spacing:0.5px;">8</div>
<div style="position:absolute;top:686.19px;font-size:3.6px;line-height:4.32px;color:#333;white-space:nowrap;font-weight:bold;left:144.83px;width:16px;text-align:center;transform:scaleX(1.2);transform-origin:center center;letter-spacing:0.5px;">9</div>
<div style="position:absolute;top:686.19px;font-size:3.6px;line-height:4.32px;color:#333;white-space:nowrap;font-weight:bold;left:157.91px;width:16px;text-align:center;transform:scaleX(1.2);transform-origin:center center;letter-spacing:0.5px;">10</div>
<div style="position:absolute;top:686.19px;font-size:3.6px;line-height:4.32px;color:#333;white-space:nowrap;font-weight:bold;left:170.99px;width:16px;text-align:center;transform:scaleX(1.2);transform-origin:center center;letter-spacing:0.5px;">11</div>
<div style="position:absolute;top:686.19px;font-size:3.6px;line-height:4.32px;color:#333;white-space:nowrap;font-weight:bold;left:184.07px;width:16px;text-align:center;transform:scaleX(1.2);transform-origin:center center;letter-spacing:0.5px;">12</div>
<div style="position:absolute;top:686.19px;font-size:3.6px;line-height:4.32px;color:#333;white-space:nowrap;font-weight:bold;left:197.15px;width:16px;text-align:center;transform:scaleX(1.2);transform-origin:center center;letter-spacing:0.5px;">13</div>
<div style="position:absolute;top:686.19px;font-size:3.6px;line-height:4.32px;color:#333;white-space:nowrap;font-weight:bold;left:210.23px;width:16px;text-align:center;transform:scaleX(1.2);transform-origin:center center;letter-spacing:0.5px;">14</div>
<div style="position:absolute;top:686.19px;font-size:3.6px;line-height:4.32px;color:#333;white-space:nowrap;font-weight:bold;left:223.31px;width:16px;text-align:center;transform:scaleX(1.2);transform-origin:center center;letter-spacing:0.5px;">15</div>
<div style="position:absolute;top:686.19px;font-size:3.6px;line-height:4.32px;color:#333;white-space:nowrap;font-weight:bold;left:236.38px;width:16px;text-align:center;transform:scaleX(1.2);transform-origin:center center;letter-spacing:0.5px;">16</div>
<div style="position:absolute;top:686.19px;font-size:3.6px;line-height:4.32px;color:#333;white-space:nowrap;font-weight:bold;left:249.46px;width:16px;text-align:center;transform:scaleX(1.2);transform-origin:center center;letter-spacing:0.5px;">17</div>
<div style="position:absolute;top:686.19px;font-size:3.6px;line-height:4.32px;color:#333;white-space:nowrap;font-weight:bold;left:262.54px;width:16px;text-align:center;transform:scaleX(1.2);transform-origin:center center;letter-spacing:0.5px;">18</div>
<div style="position:absolute;top:686.19px;font-size:3.6px;line-height:4.32px;color:#333;white-space:nowrap;font-weight:bold;left:275.62px;width:16px;text-align:center;transform:scaleX(1.2);transform-origin:center center;letter-spacing:0.5px;">19</div>
<div style="position:absolute;top:686.19px;font-size:3.6px;line-height:4.32px;color:#333;white-space:nowrap;font-weight:bold;left:288.70px;width:16px;text-align:center;transform:scaleX(1.2);transform-origin:center center;letter-spacing:0.5px;">20</div>
<div style="position:absolute;top:686.19px;font-size:3.6px;line-height:4.32px;color:#333;white-space:nowrap;font-weight:bold;left:301.78px;width:16px;text-align:center;transform:scaleX(1.2);transform-origin:center center;letter-spacing:0.5px;">19</div>
<div style="position:absolute;top:686.19px;font-size:3.6px;line-height:4.32px;color:#333;white-space:nowrap;font-weight:bold;left:314.86px;width:16px;text-align:center;transform:scaleX(1.2);transform-origin:center center;letter-spacing:0.5px;">18</div>
<div style="position:absolute;top:686.19px;font-size:3.6px;line-height:4.32px;color:#333;white-space:nowrap;font-weight:bold;left:327.94px;width:16px;text-align:center;transform:scaleX(1.2);transform-origin:center center;letter-spacing:0.5px;">17</div>
<div style="position:absolute;top:686.19px;font-size:3.6px;line-height:4.32px;color:#333;white-space:nowrap;font-weight:bold;left:341.02px;width:16px;text-align:center;transform:scaleX(1.2);transform-origin:center center;letter-spacing:0.5px;">16</div>
<div style="position:absolute;top:686.19px;font-size:3.6px;line-height:4.32px;color:#333;white-space:nowrap;font-weight:bold;left:354.10px;width:16px;text-align:center;transform:scaleX(1.2);transform-origin:center center;letter-spacing:0.5px;">15</div>
<div style="position:absolute;top:686.19px;font-size:3.6px;line-height:4.32px;color:#333;white-space:nowrap;font-weight:bold;left:367.18px;width:16px;text-align:center;transform:scaleX(1.2);transform-origin:center center;letter-spacing:0.5px;">14</div>
<div style="position:absolute;top:686.19px;font-size:3.6px;line-height:4.32px;color:#333;white-space:nowrap;font-weight:bold;left:380.25px;width:16px;text-align:center;transform:scaleX(1.2);transform-origin:center center;letter-spacing:0.5px;">13</div>
<div style="position:absolute;top:686.19px;font-size:3.6px;line-height:4.32px;color:#333;white-space:nowrap;font-weight:bold;left:393.33px;width:16px;text-align:center;transform:scaleX(1.2);transform-origin:center center;letter-spacing:0.5px;">12</div>
<div style="position:absolute;top:686.19px;font-size:3.6px;line-height:4.32px;color:#333;white-space:nowrap;font-weight:bold;left:406.41px;width:16px;text-align:center;transform:scaleX(1.2);transform-origin:center center;letter-spacing:0.5px;">11</div>
<div style="position:absolute;top:686.19px;font-size:3.6px;line-height:4.32px;color:#333;white-space:nowrap;font-weight:bold;left:419.49px;width:16px;text-align:center;transform:scaleX(1.2);transform-origin:center center;letter-spacing:0.5px;">10</div>
<div style="position:absolute;top:686.19px;font-size:3.6px;line-height:4.32px;color:#333;white-space:nowrap;font-weight:bold;left:432.57px;width:16px;text-align:center;transform:scaleX(1.2);transform-origin:center center;letter-spacing:0.5px;">9</div>
<div style="position:absolute;top:686.19px;font-size:3.6px;line-height:4.32px;color:#333;white-space:nowrap;font-weight:bold;left:445.65px;width:16px;text-align:center;transform:scaleX(1.2);transform-origin:center center;letter-spacing:0.5px;">8</div>
<div style="position:absolute;top:686.19px;font-size:3.6px;line-height:4.32px;color:#333;white-space:nowrap;font-weight:bold;left:458.73px;width:16px;text-align:center;transform:scaleX(1.2);transform-origin:center center;letter-spacing:0.5px;">7</div>
<div style="position:absolute;top:686.19px;font-size:3.6px;line-height:4.32px;color:#333;white-space:nowrap;font-weight:bold;left:471.81px;width:16px;text-align:center;transform:scaleX(1.2);transform-origin:center center;letter-spacing:0.5px;">6</div>
<div style="position:absolute;top:686.19px;font-size:3.6px;line-height:4.32px;color:#333;white-space:nowrap;font-weight:bold;left:484.89px;width:16px;text-align:center;transform:scaleX(1.2);transform-origin:center center;letter-spacing:0.5px;">5</div>
<div style="position:absolute;top:686.19px;font-size:3.6px;line-height:4.32px;color:#333;white-space:nowrap;font-weight:bold;left:497.97px;width:16px;text-align:center;transform:scaleX(1.2);transform-origin:center center;letter-spacing:0.5px;">4</div>
<div style="position:absolute;top:686.19px;font-size:3.6px;line-height:4.32px;color:#333;white-space:nowrap;font-weight:bold;left:511.04px;width:16px;text-align:center;transform:scaleX(1.2);transform-origin:center center;letter-spacing:0.5px;">3</div>
<div style="position:absolute;top:686.19px;font-size:3.6px;line-height:4.32px;color:#333;white-space:nowrap;font-weight:bold;left:524.12px;width:16px;text-align:center;transform:scaleX(1.2);transform-origin:center center;letter-spacing:0.5px;">2</div>
<div style="position:absolute;top:686.19px;font-size:3.6px;line-height:4.32px;color:#333;white-space:nowrap;font-weight:bold;left:537.20px;width:16px;text-align:center;transform:scaleX(1.2);transform-origin:center center;letter-spacing:0.5px;">1</div>
<div style="position:absolute;top:672.32px;font-size:4.1px;line-height:4.92px;color:#111;white-space:nowrap;font-weight:bold;left:-2.30px;width:30px;text-align:right;transform:scaleX(1.22);transform-origin:right center;">150</div>
<div style="position:absolute;top:662.57px;font-size:4.1px;line-height:4.92px;color:#111;white-space:nowrap;font-weight:bold;left:-2.30px;width:30px;text-align:right;transform:scaleX(1.22);transform-origin:right center;">300</div>
<div style="position:absolute;top:652.82px;font-size:4.1px;line-height:4.92px;color:#111;white-space:nowrap;font-weight:bold;left:-2.30px;width:30px;text-align:right;transform:scaleX(1.22);transform-origin:right center;">450</div>
<div style="position:absolute;top:643.07px;font-size:4.1px;line-height:4.92px;color:#111;white-space:nowrap;font-weight:bold;left:-2.30px;width:30px;text-align:right;transform:scaleX(1.22);transform-origin:right center;">600</div>
<div style="position:absolute;top:633.32px;font-size:4.1px;line-height:4.92px;color:#111;white-space:nowrap;font-weight:bold;left:-2.30px;width:30px;text-align:right;transform:scaleX(1.22);transform-origin:right center;">750</div>
<div style="position:absolute;top:623.57px;font-size:4.1px;line-height:4.92px;color:#111;white-space:nowrap;font-weight:bold;left:-2.30px;width:30px;text-align:right;transform:scaleX(1.22);transform-origin:right center;">900</div>
<div style="position:absolute;top:613.82px;font-size:4.1px;line-height:4.92px;color:#111;white-space:nowrap;font-weight:bold;left:-2.30px;width:30px;text-align:right;transform:scaleX(1.22);transform-origin:right center;">1050</div>
<div style="position:absolute;top:604.07px;font-size:4.1px;line-height:4.92px;color:#111;white-space:nowrap;font-weight:bold;left:-2.30px;width:30px;text-align:right;transform:scaleX(1.22);transform-origin:right center;">1200</div>
<div style="position:absolute;top:594.32px;font-size:4.1px;line-height:4.92px;color:#111;white-space:nowrap;font-weight:bold;left:-2.30px;width:30px;text-align:right;transform:scaleX(1.22);transform-origin:right center;">1350</div>
<div style="position:absolute;top:584.57px;font-size:4.1px;line-height:4.92px;color:#111;white-space:nowrap;font-weight:bold;left:-2.30px;width:30px;text-align:right;transform:scaleX(1.22);transform-origin:right center;">1500</div>
</body></html>
